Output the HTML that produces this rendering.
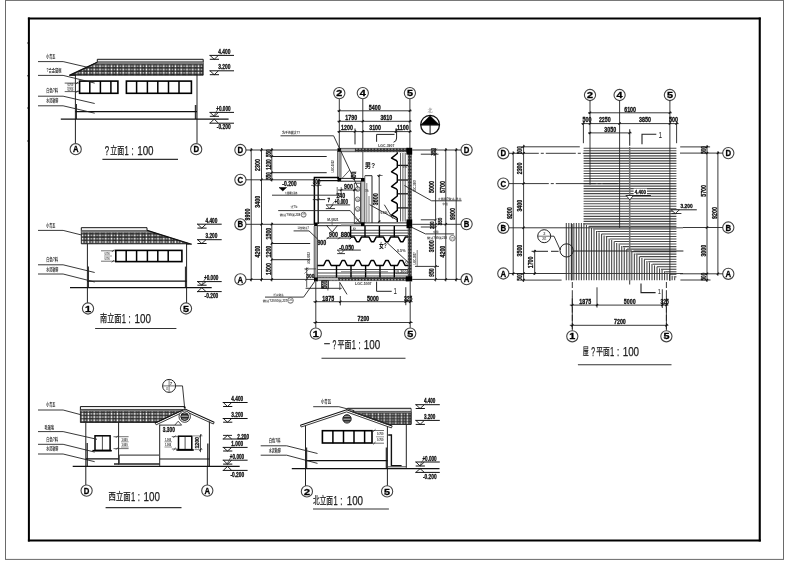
<!DOCTYPE html>
<html lang="zh"><head><meta charset="utf-8"><title>CAD</title>
<style>html,body{margin:0;padding:0;background:#fff}svg{display:block;filter:grayscale(1)}text{white-space:pre}</style></head>
<body><svg width="790" height="584" viewBox="0 0 790 584">
<defs>
<pattern id="tile1" x="0" y="64.55" width="5.8" height="3.3" patternUnits="userSpaceOnUse"><rect width="5.8" height="3.3" fill="#2e2e2e"/><rect x="0.6" y="0.6499999999999999" width="1.6" height="2.0" fill="#fff"/><rect x="3.5" y="0.7999999999999999" width="1.6" height="1.7" fill="#b4b4b4"/></pattern>
<pattern id="tile2" x="0" y="233.75" width="5.8" height="3.3" patternUnits="userSpaceOnUse"><rect width="5.8" height="3.3" fill="#2e2e2e"/><rect x="0.6" y="0.6499999999999999" width="1.6" height="2.0" fill="#fff"/><rect x="3.5" y="0.7999999999999999" width="1.6" height="1.7" fill="#b4b4b4"/></pattern>
<pattern id="tile3" x="0" y="412.25" width="5.8" height="3.2" patternUnits="userSpaceOnUse"><rect width="5.8" height="3.2" fill="#2e2e2e"/><rect x="0.6" y="0.6000000000000001" width="1.6" height="2.0" fill="#fff"/><rect x="3.5" y="0.7500000000000001" width="1.6" height="1.7" fill="#b4b4b4"/></pattern>
<pattern id="tile4" x="0" y="412.85" width="5.8" height="2.9" patternUnits="userSpaceOnUse"><rect width="5.8" height="2.9" fill="#2e2e2e"/><rect x="0.6" y="0.6" width="1.6" height="1.7" fill="#fff"/><rect x="3.5" y="0.75" width="1.6" height="1.4" fill="#b4b4b4"/></pattern>
<pattern id="wallh" width="3.2" height="3.2" patternUnits="userSpaceOnUse"><rect width="3.2" height="3.2" fill="#333"/><rect x="0.9" y="0.9" width="1.4" height="1.4" fill="#ddd"/></pattern>
<pattern id="vent" width="2" height="1.5" patternUnits="userSpaceOnUse"><rect width="2" height="1.5" fill="#fff"/><rect width="2" height="1.0" fill="#111"/></pattern>
</defs>
<rect width="790" height="584" fill="#fff"/>
<rect x="5.5" y="0.4" width="778" height="559" fill="none" stroke="#6a6a6a" stroke-width="1"/>
<line x1="28.9" y1="17.4" x2="28.9" y2="541.5" stroke="#000" stroke-width="2"/>
<line x1="27.9" y1="18.5" x2="760.8" y2="18.5" stroke="#000" stroke-width="2.2"/>
<line x1="759.75" y1="17.4" x2="759.75" y2="541.5" stroke="#000" stroke-width="2.1"/>
<line x1="27.9" y1="540.5" x2="760.8" y2="540.5" stroke="#000" stroke-width="2"/>
<line x1="27.2" y1="43" x2="29" y2="43" stroke="#000" stroke-width="0.9"/>
<line x1="27.2" y1="75.8" x2="29" y2="75.8" stroke="#000" stroke-width="0.9"/>
<line x1="27.2" y1="108" x2="29" y2="108" stroke="#000" stroke-width="0.9"/>
<line x1="27.2" y1="141" x2="29" y2="141" stroke="#000" stroke-width="0.9"/>
<polyline points="97.3,62 97.3,59.3 203.2,59.3 203.2,62" fill="none" stroke="#111" stroke-width="1"/>
<line x1="97.3" y1="61.3" x2="203.2" y2="61.3" stroke="#666" stroke-width="0.7"/>
<polygon points="97.3,62.2 203.2,62.2 203.2,75.2 70.5,75.2" fill="url(#tile1)" stroke="#111" stroke-width="0.8"/>
<polygon points="97.3,62.1 203.2,62.1 203.2,64.3 92.6,64.3" fill="#7a7a7a" stroke="none" stroke-width="0"/>
<line x1="97.3" y1="62.2" x2="69.3" y2="75.4" stroke="#111" stroke-width="1.2"/>
<line x1="69.3" y1="75.4" x2="76" y2="75.4" stroke="#111" stroke-width="0.8"/>
<line x1="75.4" y1="75" x2="75.4" y2="143.6" stroke="#222" stroke-width="1"/>
<line x1="197" y1="74.7" x2="197" y2="143.6" stroke="#222" stroke-width="1"/>
<line x1="76.3" y1="104" x2="76.3" y2="119" stroke="#333" stroke-width="1.4"/>
<line x1="195.6" y1="105" x2="195.6" y2="119" stroke="#333" stroke-width="1.6"/>
<line x1="75.4" y1="111.6" x2="197" y2="111.6" stroke="#111" stroke-width="1.2"/>
<line x1="60.8" y1="119.1" x2="228.6" y2="119.1" stroke="#111" stroke-width="1.2"/>
<rect x="79.6" y="81.1" width="38.3" height="12.2" fill="none" stroke="#000" stroke-width="1.6"/>
<line x1="89.8" y1="81" x2="89.8" y2="93.3" stroke="#000" stroke-width="1.5"/>
<line x1="100.4" y1="81" x2="100.4" y2="93.3" stroke="#000" stroke-width="1.5"/>
<line x1="110.9" y1="81" x2="110.9" y2="93.3" stroke="#000" stroke-width="1.5"/>
<rect x="126.4" y="81.1" width="65" height="12.2" fill="none" stroke="#000" stroke-width="1.6"/>
<line x1="136.6" y1="81" x2="136.6" y2="93.3" stroke="#000" stroke-width="1.5"/>
<line x1="147.4" y1="81" x2="147.4" y2="93.3" stroke="#000" stroke-width="1.5"/>
<line x1="157.8" y1="81" x2="157.8" y2="93.3" stroke="#000" stroke-width="1.5"/>
<line x1="168.5" y1="81" x2="168.5" y2="93.3" stroke="#000" stroke-width="1.5"/>
<line x1="179" y1="81" x2="179" y2="93.3" stroke="#000" stroke-width="1.5"/>
<line x1="64.7" y1="83.1" x2="79" y2="83.1" stroke="#333" stroke-width="0.8"/>
<line x1="64.7" y1="91.6" x2="79" y2="91.6" stroke="#333" stroke-width="0.8"/>
<line x1="67" y1="87.3" x2="73.5" y2="87.3" stroke="#555" stroke-width="0.6"/>
<line x1="75.8" y1="84.3" x2="78.2" y2="81.9" stroke="#111" stroke-width="0.7"/>
<line x1="75.8" y1="92.8" x2="78.2" y2="90.4" stroke="#111" stroke-width="0.7"/>
<text x="67.4" y="86.41" font-size="2.8" font-weight="bold" fill="#222" font-family='"Liberation Sans","Noto Sans CJK SC",sans-serif' textLength="5.8" lengthAdjust="spacingAndGlyphs">0.700</text>
<text x="67.4" y="90.61" font-size="2.8" font-weight="bold" fill="#222" font-family='"Liberation Sans","Noto Sans CJK SC",sans-serif' textLength="5.8" lengthAdjust="spacingAndGlyphs">0.700</text>
<polyline points="38,61.6 63.1,61.6 89.3,67.7" fill="none" stroke="#222" stroke-width="0.9"/>
<text x="46.2" y="58.13" font-size="4.8" font-weight="bold" fill="#333" font-family='"Liberation Sans","Noto Sans CJK SC",sans-serif' textLength="9.2" lengthAdjust="spacingAndGlyphs">小青瓦</text>
<polyline points="38,75.4 63.1,75.4 94.7,83.1" fill="none" stroke="#222" stroke-width="0.9"/>
<text x="46.5" y="71.73" font-size="4.8" font-weight="bold" fill="#333" font-family='"Liberation Sans","Noto Sans CJK SC",sans-serif' textLength="15.1" lengthAdjust="spacingAndGlyphs">?合金窗框</text>
<polyline points="38,96.2 63.1,96.2 94.7,103.5" fill="none" stroke="#222" stroke-width="0.9"/>
<text x="46.2" y="92.23" font-size="4.8" font-weight="bold" fill="#333" font-family='"Liberation Sans","Noto Sans CJK SC",sans-serif' textLength="12" lengthAdjust="spacingAndGlyphs">白色?料</text>
<polyline points="38,105.8 63.1,105.8 94.7,113.2" fill="none" stroke="#222" stroke-width="0.9"/>
<text x="46.2" y="102.13" font-size="4.8" font-weight="bold" fill="#333" font-family='"Liberation Sans","Noto Sans CJK SC",sans-serif' textLength="12" lengthAdjust="spacingAndGlyphs">水泥勒脚</text>
<line x1="209.4" y1="55.4" x2="234" y2="55.4" stroke="#111" stroke-width="1"/>
<polyline points="210,55.4 214.2,59.3 218.4,55.4" fill="none" stroke="#111" stroke-width="0.9"/>
<line x1="209.8" y1="59.3" x2="219" y2="59.3" stroke="#111" stroke-width="1"/>
<text x="218.2" y="54.08" font-size="6.6" font-weight="bold" fill="#111" font-family='"Liberation Sans","Noto Sans CJK SC",sans-serif' textLength="12.2" lengthAdjust="spacingAndGlyphs" stroke="#111" stroke-width="0.3">4.400</text>
<line x1="209.4" y1="70.8" x2="234" y2="70.8" stroke="#111" stroke-width="1"/>
<polyline points="210,70.8 214.2,74.7 218.4,70.8" fill="none" stroke="#111" stroke-width="0.9"/>
<line x1="209.8" y1="74.7" x2="219" y2="74.7" stroke="#111" stroke-width="1"/>
<text x="218.2" y="69.48" font-size="6.6" font-weight="bold" fill="#111" font-family='"Liberation Sans","Noto Sans CJK SC",sans-serif' textLength="12.2" lengthAdjust="spacingAndGlyphs" stroke="#111" stroke-width="0.3">3.200</text>
<line x1="209.4" y1="112.4" x2="234" y2="112.4" stroke="#111" stroke-width="1"/>
<polyline points="210,112.4 214.2,116.3 218.4,112.4" fill="none" stroke="#111" stroke-width="0.9"/>
<line x1="209.8" y1="116.3" x2="219" y2="116.3" stroke="#111" stroke-width="1"/>
<text x="216.3" y="111.08" font-size="6.6" font-weight="bold" fill="#111" font-family='"Liberation Sans","Noto Sans CJK SC",sans-serif' textLength="14.3" lengthAdjust="spacingAndGlyphs" stroke="#111" stroke-width="0.3">+0.000</text>
<line x1="213.8" y1="116.3" x2="217.5" y2="109.5" stroke="#333" stroke-width="0.7"/>
<line x1="209.4" y1="123.2" x2="234" y2="123.2" stroke="#111" stroke-width="1"/>
<polyline points="210,123.2 214.2,119.1 218.4,123.2" fill="none" stroke="#111" stroke-width="0.9"/>
<text x="216.8" y="129.48" font-size="6.6" font-weight="bold" fill="#111" font-family='"Liberation Sans","Noto Sans CJK SC",sans-serif' textLength="13.8" lengthAdjust="spacingAndGlyphs" stroke="#111" stroke-width="0.3">-0.200</text>
<circle cx="75.7" cy="149.2" r="5.6" fill="#fff" stroke="#444" stroke-width="1.1"/>
<text x="72.9" y="152.37" font-size="8.8" font-weight="bold" fill="#000" font-family='"Liberation Sans","Noto Sans CJK SC",sans-serif' textLength="5.6" lengthAdjust="spacingAndGlyphs" stroke="#000" stroke-width="0.3">A</text>
<circle cx="196.2" cy="149.2" r="5.6" fill="#fff" stroke="#444" stroke-width="1.1"/>
<text x="193.4" y="152.37" font-size="8.8" font-weight="bold" fill="#000" font-family='"Liberation Sans","Noto Sans CJK SC",sans-serif' textLength="5.6" lengthAdjust="spacingAndGlyphs" stroke="#000" stroke-width="0.3">D</text>
<text x="104.7" y="154.62" font-size="12" font-weight="normal" fill="#222" font-family='"Liberation Sans","Noto Sans CJK SC",sans-serif' textLength="4.4" lengthAdjust="spacingAndGlyphs" stroke="#222" stroke-width="0.25">?</text>
<text x="110.3" y="153.8" font-size="10" font-weight="normal" fill="#222" font-family='"Liberation Sans","Noto Sans CJK SC",sans-serif' textLength="13.9" lengthAdjust="spacingAndGlyphs" stroke="#222" stroke-width="0.25">立面</text>
<text x="124.6" y="154.76" font-size="12.4" font-weight="normal" fill="#222" font-family='"Liberation Sans","Noto Sans CJK SC",sans-serif' textLength="4.2" lengthAdjust="spacingAndGlyphs" stroke="#222" stroke-width="0.25">1</text>
<text x="131.4" y="154.76" font-size="12.4" font-weight="normal" fill="#222" font-family='"Liberation Sans","Noto Sans CJK SC",sans-serif' textLength="2.2" lengthAdjust="spacingAndGlyphs" stroke="#222" stroke-width="0.25">:</text>
<text x="137.2" y="154.76" font-size="12.4" font-weight="normal" fill="#222" font-family='"Liberation Sans","Noto Sans CJK SC",sans-serif' textLength="16.4" lengthAdjust="spacingAndGlyphs" stroke="#222" stroke-width="0.25">100</text>
<line x1="102.4" y1="159.4" x2="178" y2="159.4" stroke="#333" stroke-width="1.1"/>
<polyline points="81.3,231 81.3,227.7 147,227.7 147,230.4" fill="none" stroke="#111" stroke-width="1"/>
<line x1="81.3" y1="230.4" x2="147" y2="230.4" stroke="#555" stroke-width="0.7"/>
<polygon points="81.3,231 148.5,231 189.2,243.8 81.3,243.8" fill="url(#tile2)" stroke="#111" stroke-width="0.8"/>
<polygon points="81.3,230.6 147.6,230.6 154.4,232.7 81.3,232.7" fill="#7a7a7a" stroke="none" stroke-width="0"/>
<line x1="147" y1="230.4" x2="191.6" y2="244.2" stroke="#111" stroke-width="1.2"/>
<line x1="186" y1="244.2" x2="191.6" y2="244.2" stroke="#111" stroke-width="0.8"/>
<line x1="87.4" y1="243.5" x2="87.4" y2="303" stroke="#222" stroke-width="1"/>
<line x1="186.6" y1="244" x2="186.6" y2="303" stroke="#222" stroke-width="1"/>
<line x1="88.3" y1="266.6" x2="88.3" y2="287.6" stroke="#333" stroke-width="1.4"/>
<line x1="185.6" y1="266.6" x2="185.6" y2="287.6" stroke="#333" stroke-width="1.4"/>
<line x1="87.4" y1="281.1" x2="186.6" y2="281.1" stroke="#111" stroke-width="1.2"/>
<line x1="70" y1="287.7" x2="211.7" y2="287.7" stroke="#111" stroke-width="1.2"/>
<rect x="115.8" y="250.4" width="66.1" height="11.2" fill="none" stroke="#000" stroke-width="1.6"/>
<line x1="126.2" y1="250.3" x2="126.2" y2="261.7" stroke="#000" stroke-width="1.5"/>
<line x1="136.6" y1="250.3" x2="136.6" y2="261.7" stroke="#000" stroke-width="1.5"/>
<line x1="147.4" y1="250.3" x2="147.4" y2="261.7" stroke="#000" stroke-width="1.5"/>
<line x1="157.8" y1="250.3" x2="157.8" y2="261.7" stroke="#000" stroke-width="1.5"/>
<line x1="168.2" y1="250.3" x2="168.2" y2="261.7" stroke="#000" stroke-width="1.5"/>
<line x1="101" y1="250.8" x2="115" y2="250.8" stroke="#333" stroke-width="0.7"/>
<line x1="101" y1="261.2" x2="115" y2="261.2" stroke="#333" stroke-width="0.7"/>
<line x1="104" y1="256" x2="112" y2="256" stroke="#555" stroke-width="0.6"/>
<text x="104.5" y="254.61" font-size="2.8" font-weight="bold" fill="#222" font-family='"Liberation Sans","Noto Sans CJK SC",sans-serif' textLength="5" lengthAdjust="spacingAndGlyphs">0.700</text>
<text x="104.5" y="259.61" font-size="2.8" font-weight="bold" fill="#222" font-family='"Liberation Sans","Noto Sans CJK SC",sans-serif' textLength="5" lengthAdjust="spacingAndGlyphs">0.700</text>
<line x1="111.8" y1="252" x2="114.2" y2="249.6" stroke="#111" stroke-width="0.7"/>
<line x1="111.8" y1="262.4" x2="114.2" y2="260" stroke="#111" stroke-width="0.7"/>
<polyline points="38,230.4 63.1,230.4 81.6,235" fill="none" stroke="#222" stroke-width="0.9"/>
<text x="46.2" y="226.73" font-size="4.8" font-weight="bold" fill="#333" font-family='"Liberation Sans","Noto Sans CJK SC",sans-serif' textLength="9.2" lengthAdjust="spacingAndGlyphs">小青瓦</text>
<polyline points="38,264.8 63.1,264.8 94.7,272.5" fill="none" stroke="#222" stroke-width="0.9"/>
<text x="46.2" y="261.43" font-size="4.8" font-weight="bold" fill="#333" font-family='"Liberation Sans","Noto Sans CJK SC",sans-serif' textLength="12" lengthAdjust="spacingAndGlyphs">白色?料</text>
<polyline points="38,274 63.1,274 94.7,282" fill="none" stroke="#222" stroke-width="0.9"/>
<text x="46.2" y="270.73" font-size="4.8" font-weight="bold" fill="#333" font-family='"Liberation Sans","Noto Sans CJK SC",sans-serif' textLength="12" lengthAdjust="spacingAndGlyphs">水泥勒脚</text>
<line x1="197" y1="224.2" x2="221.7" y2="224.2" stroke="#111" stroke-width="1"/>
<polyline points="197.6,224.2 201.8,228.1 206,224.2" fill="none" stroke="#111" stroke-width="0.9"/>
<line x1="197.4" y1="228.1" x2="206.6" y2="228.1" stroke="#111" stroke-width="1"/>
<text x="205.5" y="222.88" font-size="6.6" font-weight="bold" fill="#111" font-family='"Liberation Sans","Noto Sans CJK SC",sans-serif' textLength="11.9" lengthAdjust="spacingAndGlyphs" stroke="#111" stroke-width="0.3">4.400</text>
<line x1="197" y1="239.7" x2="221.7" y2="239.7" stroke="#111" stroke-width="1"/>
<polyline points="197.6,239.7 201.8,243.5 206,239.7" fill="none" stroke="#111" stroke-width="0.9"/>
<line x1="197.4" y1="243.5" x2="206.6" y2="243.5" stroke="#111" stroke-width="1"/>
<text x="205.5" y="238.38" font-size="6.6" font-weight="bold" fill="#111" font-family='"Liberation Sans","Noto Sans CJK SC",sans-serif' textLength="11.9" lengthAdjust="spacingAndGlyphs" stroke="#111" stroke-width="0.3">3.200</text>
<line x1="197" y1="281.6" x2="221.7" y2="281.6" stroke="#111" stroke-width="1"/>
<polyline points="197.6,281.6 201.8,285.2 206,281.6" fill="none" stroke="#111" stroke-width="0.9"/>
<line x1="197.4" y1="285.2" x2="206.6" y2="285.2" stroke="#111" stroke-width="1"/>
<text x="204" y="280.28" font-size="6.6" font-weight="bold" fill="#111" font-family='"Liberation Sans","Noto Sans CJK SC",sans-serif' textLength="14.3" lengthAdjust="spacingAndGlyphs" stroke="#111" stroke-width="0.3">+0.000</text>
<line x1="201.4" y1="285.2" x2="205.2" y2="278.6" stroke="#333" stroke-width="0.7"/>
<line x1="197" y1="291.6" x2="221.7" y2="291.6" stroke="#111" stroke-width="1"/>
<polyline points="197.6,291.6 201.8,287.7 206,291.6" fill="none" stroke="#111" stroke-width="0.9"/>
<text x="204.6" y="297.88" font-size="6.6" font-weight="bold" fill="#111" font-family='"Liberation Sans","Noto Sans CJK SC",sans-serif' textLength="13.7" lengthAdjust="spacingAndGlyphs" stroke="#111" stroke-width="0.3">-0.200</text>
<circle cx="88" cy="308.5" r="5.6" fill="#fff" stroke="#444" stroke-width="1.1"/>
<text x="85" y="311.6" font-size="8.6" font-weight="bold" fill="#000" font-family='"Liberation Sans","Noto Sans CJK SC",sans-serif' textLength="6" lengthAdjust="spacingAndGlyphs" stroke="#000" stroke-width="0.3">1</text>
<circle cx="186" cy="308.5" r="5.6" fill="#fff" stroke="#444" stroke-width="1.1"/>
<text x="183" y="311.6" font-size="8.6" font-weight="bold" fill="#000" font-family='"Liberation Sans","Noto Sans CJK SC",sans-serif' textLength="6" lengthAdjust="spacingAndGlyphs" stroke="#000" stroke-width="0.3">5</text>
<text x="100.1" y="322.2" font-size="10" font-weight="normal" fill="#222" font-family='"Liberation Sans","Noto Sans CJK SC",sans-serif' textLength="21.3" lengthAdjust="spacingAndGlyphs" stroke="#222" stroke-width="0.25">南立面</text>
<text x="121.8" y="323.16" font-size="12.4" font-weight="normal" fill="#222" font-family='"Liberation Sans","Noto Sans CJK SC",sans-serif' textLength="4.2" lengthAdjust="spacingAndGlyphs" stroke="#222" stroke-width="0.25">1</text>
<text x="128.6" y="323.16" font-size="12.4" font-weight="normal" fill="#222" font-family='"Liberation Sans","Noto Sans CJK SC",sans-serif' textLength="2.2" lengthAdjust="spacingAndGlyphs" stroke="#222" stroke-width="0.25">:</text>
<text x="134.5" y="323.16" font-size="12.4" font-weight="normal" fill="#222" font-family='"Liberation Sans","Noto Sans CJK SC",sans-serif' textLength="16.4" lengthAdjust="spacingAndGlyphs" stroke="#222" stroke-width="0.25">100</text>
<line x1="95.1" y1="328.5" x2="176.4" y2="328.5" stroke="#333" stroke-width="1.1"/>
<polyline points="80.4,410.6 80.4,406.6 184.7,406.6" fill="none" stroke="#111" stroke-width="1"/>
<line x1="80.4" y1="409.4" x2="182" y2="409.4" stroke="#555" stroke-width="0.7"/>
<polygon points="80.4,409.8 183,409.8 156.5,422.5 80.4,422.5" fill="url(#tile3)" stroke="#111" stroke-width="0.8"/>
<polygon points="80.4,409.7 183,409.7 179.9,411.2 80.4,411.2" fill="#7a7a7a" stroke="none" stroke-width="0"/>
<polyline points="155.1,423.1 185.1,409 214.2,422.3" fill="none" stroke="#111" stroke-width="1.1"/>
<polyline points="156.2,424.8 185.1,411.2 213.4,424" fill="none" stroke="#222" stroke-width="0.9"/>
<line x1="155.1" y1="423.1" x2="156.2" y2="424.8" stroke="#111" stroke-width="0.8"/>
<line x1="214.2" y1="422.3" x2="213.4" y2="424" stroke="#111" stroke-width="0.8"/>
<circle cx="184.7" cy="416.6" r="5.7" fill="#fff" stroke="#222" stroke-width="0.9"/>
<circle cx="184.7" cy="416.6" r="3.9" fill="url(#vent)" stroke="#111" stroke-width="0.9"/>
<circle cx="169.1" cy="385.9" r="6.5" fill="none" stroke="#222" stroke-width="1"/>
<line x1="162.6" y1="385.9" x2="175.6" y2="385.9" stroke="#333" stroke-width="0.7"/>
<line x1="169.1" y1="379.4" x2="169.1" y2="392.4" stroke="#444" stroke-width="0.7"/>
<text x="169.8" y="384.55" font-size="3.2" font-weight="bold" fill="#444" font-family='"Liberation Sans","Noto Sans CJK SC",sans-serif' textLength="2.6" lengthAdjust="spacingAndGlyphs">7</text>
<text x="166" y="389.88" font-size="3" font-weight="bold" fill="#555" font-family='"Liberation Sans","Noto Sans CJK SC",sans-serif' textLength="2.2" lengthAdjust="spacingAndGlyphs">J01</text>
<polyline points="175.6,385.9 182.5,385.9 184.7,408.3" fill="none" stroke="#222" stroke-width="0.9"/>
<rect x="183.8" y="406.6" width="1.8" height="1.8" fill="#111"/>
<line x1="85.8" y1="422.4" x2="85.8" y2="485" stroke="#222" stroke-width="1"/>
<line x1="118.6" y1="422.4" x2="118.6" y2="464.6" stroke="#222" stroke-width="1"/>
<line x1="159.7" y1="424.5" x2="159.7" y2="465.9" stroke="#222" stroke-width="1"/>
<line x1="209.4" y1="421.4" x2="209.4" y2="466" stroke="#222" stroke-width="1"/>
<line x1="207.3" y1="466" x2="207.3" y2="485" stroke="#222" stroke-width="1"/>
<line x1="87.2" y1="443" x2="87.2" y2="466.4" stroke="#333" stroke-width="1.4"/>
<line x1="207.8" y1="443.6" x2="207.8" y2="466.4" stroke="#333" stroke-width="1.4"/>
<line x1="85.8" y1="458.9" x2="118.6" y2="458.9" stroke="#111" stroke-width="1.2"/>
<line x1="159.7" y1="459" x2="209.4" y2="459" stroke="#111" stroke-width="1.2"/>
<line x1="119.4" y1="455.1" x2="159" y2="455.1" stroke="#222" stroke-width="1"/>
<line x1="114" y1="464.1" x2="159.7" y2="464.1" stroke="#222" stroke-width="1.5"/>
<line x1="119.4" y1="455.1" x2="119.4" y2="464" stroke="#333" stroke-width="0.8"/>
<line x1="72.7" y1="466.4" x2="239.7" y2="466.4" stroke="#111" stroke-width="1.2"/>
<rect x="95" y="435.8" width="15.1" height="14.6" fill="none" stroke="#000" stroke-width="1.5"/>
<line x1="102.4" y1="436" x2="102.4" y2="450" stroke="#222" stroke-width="0.8"/>
<line x1="92.4" y1="450.7" x2="111.8" y2="450.7" stroke="#000" stroke-width="1.6"/>
<line x1="113.5" y1="436.7" x2="128.6" y2="436.7" stroke="#333" stroke-width="0.7"/>
<line x1="113.5" y1="448.6" x2="128.6" y2="448.6" stroke="#333" stroke-width="0.7"/>
<line x1="115.8" y1="437.9" x2="118.2" y2="435.5" stroke="#111" stroke-width="0.7"/>
<line x1="115.8" y1="449.8" x2="118.2" y2="447.4" stroke="#111" stroke-width="0.7"/>
<line x1="121" y1="441.8" x2="128.6" y2="441.8" stroke="#444" stroke-width="0.6"/>
<line x1="121" y1="447" x2="128.6" y2="447" stroke="#444" stroke-width="0.6"/>
<text x="121.4" y="441.08" font-size="3" font-weight="bold" fill="#222" font-family='"Liberation Sans","Noto Sans CJK SC",sans-serif' textLength="6.2" lengthAdjust="spacingAndGlyphs">1.000</text>
<text x="121.4" y="446.38" font-size="3" font-weight="bold" fill="#222" font-family='"Liberation Sans","Noto Sans CJK SC",sans-serif' textLength="6.2" lengthAdjust="spacingAndGlyphs">1.000</text>
<rect x="178.5" y="436.2" width="13.3" height="13.4" fill="none" stroke="#000" stroke-width="1.5"/>
<line x1="185.1" y1="436.4" x2="185.1" y2="449.6" stroke="#222" stroke-width="0.8"/>
<line x1="176.4" y1="450" x2="193.8" y2="450" stroke="#000" stroke-width="1.6"/>
<line x1="171.8" y1="436.6" x2="178" y2="436.6" stroke="#333" stroke-width="0.7"/>
<line x1="171.8" y1="449" x2="178" y2="449" stroke="#333" stroke-width="0.7"/>
<line x1="173.4" y1="437.8" x2="175.8" y2="435.4" stroke="#111" stroke-width="0.7"/>
<line x1="173.4" y1="450.2" x2="175.8" y2="447.8" stroke="#111" stroke-width="0.7"/>
<line x1="164.5" y1="441.8" x2="172" y2="441.8" stroke="#444" stroke-width="0.6"/>
<line x1="164.5" y1="447" x2="172" y2="447" stroke="#444" stroke-width="0.6"/>
<text x="165" y="441.08" font-size="3" font-weight="bold" fill="#222" font-family='"Liberation Sans","Noto Sans CJK SC",sans-serif' textLength="6.2" lengthAdjust="spacingAndGlyphs">1.000</text>
<text x="165" y="446.38" font-size="3" font-weight="bold" fill="#222" font-family='"Liberation Sans","Noto Sans CJK SC",sans-serif' textLength="6.2" lengthAdjust="spacingAndGlyphs">1.000</text>
<line x1="200.5" y1="434.2" x2="200.5" y2="452.2" stroke="#222" stroke-width="0.8"/>
<line x1="193" y1="435.9" x2="202.5" y2="435.9" stroke="#444" stroke-width="0.6"/>
<line x1="194.5" y1="449.6" x2="202.5" y2="449.6" stroke="#444" stroke-width="0.6"/>
<line x1="199.2" y1="437.2" x2="201.8" y2="434.6" stroke="#111" stroke-width="0.8"/>
<line x1="199.2" y1="450.9" x2="201.8" y2="448.3" stroke="#111" stroke-width="0.8"/>
<text x="191" y="444.82" font-size="5.6" font-weight="bold" fill="#111" font-family='"Liberation Sans","Noto Sans CJK SC",sans-serif' textLength="11.6" lengthAdjust="spacingAndGlyphs" transform="rotate(-90 196.8 442.8)" stroke="#111" stroke-width="0.3">1200</text>
<line x1="159.7" y1="425.1" x2="181.6" y2="425.1" stroke="#222" stroke-width="0.9"/>
<polyline points="174.8,425.1 178.2,421.2 181.6,425.1" fill="none" stroke="#222" stroke-width="0.8"/>
<text x="162.8" y="431.6" font-size="6.4" font-weight="bold" fill="#111" font-family='"Liberation Sans","Noto Sans CJK SC",sans-serif' textLength="12" lengthAdjust="spacingAndGlyphs" stroke="#111" stroke-width="0.3">3.300</text>
<polyline points="38,410 63.1,410 80.8,414.7" fill="none" stroke="#222" stroke-width="0.9"/>
<text x="46.2" y="406.03" font-size="4.8" font-weight="bold" fill="#333" font-family='"Liberation Sans","Noto Sans CJK SC",sans-serif' textLength="9.2" lengthAdjust="spacingAndGlyphs">小青瓦</text>
<polyline points="38,431.6 63.1,431.6 97,439.3" fill="none" stroke="#222" stroke-width="0.9"/>
<text x="44.5" y="428.73" font-size="4.8" font-weight="bold" fill="#333" font-family='"Liberation Sans","Noto Sans CJK SC",sans-serif' textLength="9.5" lengthAdjust="spacingAndGlyphs">毛玻璃</text>
<polyline points="38,444.3 63.1,444.3 94.7,452.1" fill="none" stroke="#222" stroke-width="0.9"/>
<text x="46.2" y="440.73" font-size="4.8" font-weight="bold" fill="#333" font-family='"Liberation Sans","Noto Sans CJK SC",sans-serif' textLength="12" lengthAdjust="spacingAndGlyphs">白色?料</text>
<polyline points="38,454 63.1,454 94.7,461.7" fill="none" stroke="#222" stroke-width="0.9"/>
<text x="46.2" y="450.03" font-size="4.8" font-weight="bold" fill="#333" font-family='"Liberation Sans","Noto Sans CJK SC",sans-serif' textLength="12" lengthAdjust="spacingAndGlyphs">水泥勒脚</text>
<line x1="222.7" y1="402.5" x2="247.6" y2="402.5" stroke="#111" stroke-width="1"/>
<polyline points="223.3,402.5 227.5,406.5 231.7,402.5" fill="none" stroke="#111" stroke-width="0.9"/>
<line x1="223.1" y1="406.5" x2="232.3" y2="406.5" stroke="#111" stroke-width="1"/>
<text x="231.3" y="401.18" font-size="6.6" font-weight="bold" fill="#111" font-family='"Liberation Sans","Noto Sans CJK SC",sans-serif' textLength="11.9" lengthAdjust="spacingAndGlyphs" stroke="#111" stroke-width="0.3">4.400</text>
<line x1="222.7" y1="418.5" x2="247.6" y2="418.5" stroke="#111" stroke-width="1"/>
<polyline points="223.3,418.5 227.5,422.2 231.7,418.5" fill="none" stroke="#111" stroke-width="0.9"/>
<line x1="223.1" y1="422.2" x2="232.3" y2="422.2" stroke="#111" stroke-width="1"/>
<text x="231.3" y="417.18" font-size="6.6" font-weight="bold" fill="#111" font-family='"Liberation Sans","Noto Sans CJK SC",sans-serif' textLength="11.9" lengthAdjust="spacingAndGlyphs" stroke="#111" stroke-width="0.3">3.200</text>
<line x1="222.7" y1="439" x2="247.6" y2="439" stroke="#111" stroke-width="1"/>
<polyline points="223.3,439 227.5,435.4 231.7,439" fill="none" stroke="#111" stroke-width="0.9"/>
<line x1="223" y1="435.4" x2="232" y2="435.4" stroke="#111" stroke-width="0.9"/>
<text x="237.3" y="438.78" font-size="6.6" font-weight="bold" fill="#111" font-family='"Liberation Sans","Noto Sans CJK SC",sans-serif' textLength="11.7" lengthAdjust="spacingAndGlyphs" stroke="#111" stroke-width="0.3">2.200</text>
<line x1="222.7" y1="447.4" x2="247.6" y2="447.4" stroke="#111" stroke-width="1"/>
<polyline points="223.3,447.4 227.5,451 231.7,447.4" fill="none" stroke="#111" stroke-width="0.9"/>
<line x1="223.1" y1="451" x2="232.3" y2="451" stroke="#111" stroke-width="1"/>
<text x="231.3" y="446.08" font-size="6.6" font-weight="bold" fill="#111" font-family='"Liberation Sans","Noto Sans CJK SC",sans-serif' textLength="11.9" lengthAdjust="spacingAndGlyphs" stroke="#111" stroke-width="0.3">1.000</text>
<line x1="222.7" y1="460.2" x2="247.6" y2="460.2" stroke="#111" stroke-width="1"/>
<polyline points="223.3,460.2 227.5,464.1 231.7,460.2" fill="none" stroke="#111" stroke-width="0.9"/>
<line x1="223.1" y1="464.1" x2="232.3" y2="464.1" stroke="#111" stroke-width="1"/>
<text x="229.8" y="458.88" font-size="6.6" font-weight="bold" fill="#111" font-family='"Liberation Sans","Noto Sans CJK SC",sans-serif' textLength="14.4" lengthAdjust="spacingAndGlyphs" stroke="#111" stroke-width="0.3">+0.000</text>
<line x1="227" y1="464.1" x2="230.8" y2="457.2" stroke="#333" stroke-width="0.7"/>
<line x1="222.7" y1="470.4" x2="247.6" y2="470.4" stroke="#111" stroke-width="1"/>
<polyline points="223.3,470.4 227.5,466.4 231.7,470.4" fill="none" stroke="#111" stroke-width="0.9"/>
<text x="230.4" y="476.68" font-size="6.6" font-weight="bold" fill="#111" font-family='"Liberation Sans","Noto Sans CJK SC",sans-serif' textLength="13.8" lengthAdjust="spacingAndGlyphs" stroke="#111" stroke-width="0.3">-0.200</text>
<circle cx="86.6" cy="490.6" r="5.6" fill="#fff" stroke="#444" stroke-width="1.1"/>
<text x="83.8" y="493.77" font-size="8.8" font-weight="bold" fill="#000" font-family='"Liberation Sans","Noto Sans CJK SC",sans-serif' textLength="5.6" lengthAdjust="spacingAndGlyphs" stroke="#000" stroke-width="0.3">D</text>
<circle cx="207.3" cy="490.6" r="5.6" fill="#fff" stroke="#444" stroke-width="1.1"/>
<text x="204.5" y="493.77" font-size="8.8" font-weight="bold" fill="#000" font-family='"Liberation Sans","Noto Sans CJK SC",sans-serif' textLength="5.6" lengthAdjust="spacingAndGlyphs" stroke="#000" stroke-width="0.3">A</text>
<text x="108.6" y="499.6" font-size="10" font-weight="normal" fill="#222" font-family='"Liberation Sans","Noto Sans CJK SC",sans-serif' textLength="22" lengthAdjust="spacingAndGlyphs" stroke="#222" stroke-width="0.25">西立面</text>
<text x="131" y="500.56" font-size="12.4" font-weight="normal" fill="#222" font-family='"Liberation Sans","Noto Sans CJK SC",sans-serif' textLength="4.2" lengthAdjust="spacingAndGlyphs" stroke="#222" stroke-width="0.25">1</text>
<text x="137.8" y="500.56" font-size="12.4" font-weight="normal" fill="#222" font-family='"Liberation Sans","Noto Sans CJK SC",sans-serif' textLength="2.2" lengthAdjust="spacingAndGlyphs" stroke="#222" stroke-width="0.25">:</text>
<text x="143.6" y="500.56" font-size="12.4" font-weight="normal" fill="#222" font-family='"Liberation Sans","Noto Sans CJK SC",sans-serif' textLength="16.4" lengthAdjust="spacingAndGlyphs" stroke="#222" stroke-width="0.25">100</text>
<line x1="105.6" y1="507.6" x2="181.5" y2="507.6" stroke="#333" stroke-width="1.1"/>
<polyline points="347.5,408.3 411,408.3 411,424.5" fill="none" stroke="#111" stroke-width="1"/>
<polygon points="348.5,408.9 410.5,408.9 410.5,411.2 352.5,411.2" fill="#dedede" stroke="none" stroke-width="0"/>
<polygon points="353,411.6 411,411.6 411,424.5 389,424.5" fill="url(#tile4)" stroke="#111" stroke-width="0.8"/>
<polygon points="353,411.5 411,411.5 411,412.9 356.8,412.9" fill="#7a7a7a" stroke="none" stroke-width="0"/>
<polyline points="300.4,425.2 346.6,409.8 392.2,426.1" fill="none" stroke="#111" stroke-width="1.1"/>
<polyline points="301.2,427 346.6,411.9 391.4,427.9" fill="none" stroke="#222" stroke-width="0.9"/>
<line x1="300.4" y1="425.2" x2="301.2" y2="427" stroke="#111" stroke-width="0.8"/>
<line x1="392.2" y1="426.1" x2="391.4" y2="427.9" stroke="#111" stroke-width="0.8"/>
<line x1="346.6" y1="409.8" x2="347.5" y2="408.1" stroke="#111" stroke-width="0.8"/>
<line x1="350" y1="411" x2="388" y2="424.6" stroke="#333" stroke-width="0.8"/>
<circle cx="347" cy="418.9" r="4.2" fill="url(#vent)" stroke="#111" stroke-width="0.9"/>
<line x1="305.5" y1="426" x2="305.5" y2="486" stroke="#222" stroke-width="1"/>
<line x1="387.4" y1="426.5" x2="387.4" y2="486" stroke="#222" stroke-width="1"/>
<line x1="406.3" y1="424.4" x2="406.3" y2="467.8" stroke="#222" stroke-width="1"/>
<line x1="306.5" y1="447.5" x2="306.5" y2="468.5" stroke="#333" stroke-width="1.4"/>
<line x1="386.4" y1="447.5" x2="386.4" y2="468.5" stroke="#333" stroke-width="1.4"/>
<line x1="305.5" y1="460.7" x2="387.4" y2="460.7" stroke="#111" stroke-width="1.3"/>
<line x1="291.8" y1="468.6" x2="439.5" y2="468.6" stroke="#111" stroke-width="1.2"/>
<rect x="322.4" y="430.7" width="49.6" height="12.3" fill="none" stroke="#000" stroke-width="1.6"/>
<line x1="332.9" y1="430.6" x2="332.9" y2="443.2" stroke="#000" stroke-width="1.5"/>
<line x1="343.5" y1="430.6" x2="343.5" y2="443.2" stroke="#000" stroke-width="1.5"/>
<line x1="354" y1="430.6" x2="354" y2="443.2" stroke="#000" stroke-width="1.5"/>
<line x1="364.6" y1="430.6" x2="364.6" y2="443.2" stroke="#000" stroke-width="1.5"/>
<line x1="372.5" y1="430.5" x2="384" y2="430.5" stroke="#333" stroke-width="0.7"/>
<line x1="372.5" y1="443.2" x2="384" y2="443.2" stroke="#333" stroke-width="0.7"/>
<line x1="376" y1="436.8" x2="384" y2="436.8" stroke="#555" stroke-width="0.6"/>
<line x1="373.1" y1="431.7" x2="375.5" y2="429.3" stroke="#111" stroke-width="0.7"/>
<line x1="373.1" y1="444.4" x2="375.5" y2="442" stroke="#111" stroke-width="0.7"/>
<text x="377" y="435.21" font-size="2.8" font-weight="bold" fill="#222" font-family='"Liberation Sans","Noto Sans CJK SC",sans-serif' textLength="6.4" lengthAdjust="spacingAndGlyphs">0.700</text>
<text x="377" y="440.61" font-size="2.8" font-weight="bold" fill="#222" font-family='"Liberation Sans","Noto Sans CJK SC",sans-serif' textLength="6.4" lengthAdjust="spacingAndGlyphs">0.700</text>
<polyline points="388.2,435 391.4,435 391.4,465.6 401.6,465.6" fill="none" stroke="#111" stroke-width="1.4"/>
<line x1="388" y1="466.8" x2="406.3" y2="466.8" stroke="#333" stroke-width="0.9"/>
<polyline points="313.2,406.7 338.9,406.7 354.3,410.7" fill="none" stroke="#222" stroke-width="0.9"/>
<text x="320.9" y="403.03" font-size="4.8" font-weight="bold" fill="#333" font-family='"Liberation Sans","Noto Sans CJK SC",sans-serif' textLength="10.3" lengthAdjust="spacingAndGlyphs">小青瓦</text>
<polyline points="260.7,445.8 286.7,445.8 317.5,453.5" fill="none" stroke="#222" stroke-width="0.9"/>
<text x="268.7" y="442.43" font-size="4.8" font-weight="bold" fill="#333" font-family='"Liberation Sans","Noto Sans CJK SC",sans-serif' textLength="12" lengthAdjust="spacingAndGlyphs">白色?料</text>
<polyline points="260.7,455.2 286.7,455.2 317.5,463.4" fill="none" stroke="#222" stroke-width="0.9"/>
<text x="268.7" y="451.83" font-size="4.8" font-weight="bold" fill="#333" font-family='"Liberation Sans","Noto Sans CJK SC",sans-serif' textLength="12" lengthAdjust="spacingAndGlyphs">水泥勒脚</text>
<line x1="415.3" y1="404.7" x2="439.8" y2="404.7" stroke="#111" stroke-width="1"/>
<polyline points="415.9,404.7 420.1,408.5 424.3,404.7" fill="none" stroke="#111" stroke-width="0.9"/>
<line x1="415.7" y1="408.5" x2="424.9" y2="408.5" stroke="#111" stroke-width="1"/>
<text x="423.9" y="403.38" font-size="6.6" font-weight="bold" fill="#111" font-family='"Liberation Sans","Noto Sans CJK SC",sans-serif' textLength="11.5" lengthAdjust="spacingAndGlyphs" stroke="#111" stroke-width="0.3">4.400</text>
<line x1="415.3" y1="420.4" x2="439.8" y2="420.4" stroke="#111" stroke-width="1"/>
<polyline points="415.9,420.4 420.1,424.4 424.3,420.4" fill="none" stroke="#111" stroke-width="0.9"/>
<line x1="415.7" y1="424.4" x2="424.9" y2="424.4" stroke="#111" stroke-width="1"/>
<text x="423.9" y="419.08" font-size="6.6" font-weight="bold" fill="#111" font-family='"Liberation Sans","Noto Sans CJK SC",sans-serif' textLength="11.5" lengthAdjust="spacingAndGlyphs" stroke="#111" stroke-width="0.3">3.200</text>
<line x1="415.3" y1="462" x2="439.8" y2="462" stroke="#111" stroke-width="1"/>
<polyline points="415.9,462 420.1,466 424.3,462" fill="none" stroke="#111" stroke-width="0.9"/>
<line x1="415.7" y1="466" x2="424.9" y2="466" stroke="#111" stroke-width="1"/>
<text x="422.4" y="460.68" font-size="6.6" font-weight="bold" fill="#111" font-family='"Liberation Sans","Noto Sans CJK SC",sans-serif' textLength="14.2" lengthAdjust="spacingAndGlyphs" stroke="#111" stroke-width="0.3">+0.000</text>
<line x1="419.6" y1="466" x2="423.6" y2="459" stroke="#333" stroke-width="0.7"/>
<line x1="415.3" y1="472.4" x2="439.8" y2="472.4" stroke="#111" stroke-width="1"/>
<polyline points="415.9,472.4 420.1,468.6 424.3,472.4" fill="none" stroke="#111" stroke-width="0.9"/>
<text x="423" y="478.68" font-size="6.6" font-weight="bold" fill="#111" font-family='"Liberation Sans","Noto Sans CJK SC",sans-serif' textLength="13.6" lengthAdjust="spacingAndGlyphs" stroke="#111" stroke-width="0.3">-0.200</text>
<circle cx="306.9" cy="491.4" r="5.6" fill="#fff" stroke="#444" stroke-width="1.1"/>
<text x="303.9" y="494.5" font-size="8.6" font-weight="bold" fill="#000" font-family='"Liberation Sans","Noto Sans CJK SC",sans-serif' textLength="6" lengthAdjust="spacingAndGlyphs" stroke="#000" stroke-width="0.3">2</text>
<circle cx="387.1" cy="491.4" r="5.6" fill="#fff" stroke="#444" stroke-width="1.1"/>
<text x="384.1" y="494.5" font-size="8.6" font-weight="bold" fill="#000" font-family='"Liberation Sans","Noto Sans CJK SC",sans-serif' textLength="6" lengthAdjust="spacingAndGlyphs" stroke="#000" stroke-width="0.3">5</text>
<text x="313" y="503.8" font-size="10" font-weight="normal" fill="#222" font-family='"Liberation Sans","Noto Sans CJK SC",sans-serif' textLength="20" lengthAdjust="spacingAndGlyphs" stroke="#222" stroke-width="0.25">北立面</text>
<text x="333.4" y="504.76" font-size="12.4" font-weight="normal" fill="#222" font-family='"Liberation Sans","Noto Sans CJK SC",sans-serif' textLength="4.2" lengthAdjust="spacingAndGlyphs" stroke="#222" stroke-width="0.25">1</text>
<text x="340.2" y="504.76" font-size="12.4" font-weight="normal" fill="#222" font-family='"Liberation Sans","Noto Sans CJK SC",sans-serif' textLength="2.2" lengthAdjust="spacingAndGlyphs" stroke="#222" stroke-width="0.25">:</text>
<text x="346.7" y="504.76" font-size="12.4" font-weight="normal" fill="#222" font-family='"Liberation Sans","Noto Sans CJK SC",sans-serif' textLength="16.4" lengthAdjust="spacingAndGlyphs" stroke="#222" stroke-width="0.25">100</text>
<line x1="313" y1="509" x2="388.9" y2="509" stroke="#333" stroke-width="1.1"/>
<line x1="339.3" y1="98.6" x2="339.3" y2="148" stroke="#222" stroke-width="0.9"/>
<circle cx="339.3" cy="93.1" r="5.6" fill="#fff" stroke="#444" stroke-width="1.1"/>
<text x="336.3" y="96.2" font-size="8.6" font-weight="bold" fill="#000" font-family='"Liberation Sans","Noto Sans CJK SC",sans-serif' textLength="6" lengthAdjust="spacingAndGlyphs" stroke="#000" stroke-width="0.3">2</text>
<line x1="362.8" y1="98.6" x2="362.8" y2="148" stroke="#222" stroke-width="0.9"/>
<circle cx="362.8" cy="93.1" r="5.6" fill="#fff" stroke="#444" stroke-width="1.1"/>
<text x="359.8" y="96.2" font-size="8.6" font-weight="bold" fill="#000" font-family='"Liberation Sans","Noto Sans CJK SC",sans-serif' textLength="6" lengthAdjust="spacingAndGlyphs" stroke="#000" stroke-width="0.3">4</text>
<line x1="409.9" y1="98.6" x2="409.9" y2="148" stroke="#222" stroke-width="0.9"/>
<circle cx="409.9" cy="93.1" r="5.6" fill="#fff" stroke="#444" stroke-width="1.1"/>
<text x="406.9" y="96.2" font-size="8.6" font-weight="bold" fill="#000" font-family='"Liberation Sans","Noto Sans CJK SC",sans-serif' textLength="6" lengthAdjust="spacingAndGlyphs" stroke="#000" stroke-width="0.3">5</text>
<line x1="362.8" y1="148" x2="362.8" y2="226" stroke="#333" stroke-width="0.8"/>
<line x1="337.4" y1="110.8" x2="411.6" y2="110.8" stroke="#222" stroke-width="0.9"/>
<line x1="337.4" y1="121.3" x2="411.6" y2="121.3" stroke="#222" stroke-width="0.9"/>
<line x1="337.4" y1="131.6" x2="411.6" y2="131.6" stroke="#222" stroke-width="0.9"/>
<line x1="338.2" y1="111.9" x2="340.4" y2="109.7" stroke="#111" stroke-width="1.2"/>
<line x1="408.8" y1="111.9" x2="411" y2="109.7" stroke="#111" stroke-width="1.2"/>
<line x1="338.2" y1="122.4" x2="340.4" y2="120.2" stroke="#111" stroke-width="1.2"/>
<line x1="408.8" y1="122.4" x2="411" y2="120.2" stroke="#111" stroke-width="1.2"/>
<line x1="338.2" y1="132.7" x2="340.4" y2="130.5" stroke="#111" stroke-width="1.2"/>
<line x1="408.8" y1="132.7" x2="411" y2="130.5" stroke="#111" stroke-width="1.2"/>
<line x1="361.7" y1="122.4" x2="363.9" y2="120.2" stroke="#111" stroke-width="1.2"/>
<line x1="361.7" y1="132.7" x2="363.9" y2="130.5" stroke="#111" stroke-width="1.2"/>
<line x1="353.9" y1="132.7" x2="356.1" y2="130.5" stroke="#111" stroke-width="1.2"/>
<line x1="394.8" y1="132.7" x2="397" y2="130.5" stroke="#111" stroke-width="1.2"/>
<text x="368.8" y="109.65" font-size="6.8" font-weight="bold" fill="#111" font-family='"Liberation Sans","Noto Sans CJK SC",sans-serif' textLength="11.8" lengthAdjust="spacingAndGlyphs" stroke="#111" stroke-width="0.3">5400</text>
<text x="345.3" y="120.05" font-size="6.8" font-weight="bold" fill="#111" font-family='"Liberation Sans","Noto Sans CJK SC",sans-serif' textLength="11.8" lengthAdjust="spacingAndGlyphs" stroke="#111" stroke-width="0.3">1790</text>
<text x="380.4" y="120.05" font-size="6.8" font-weight="bold" fill="#111" font-family='"Liberation Sans","Noto Sans CJK SC",sans-serif' textLength="11.8" lengthAdjust="spacingAndGlyphs" stroke="#111" stroke-width="0.3">3610</text>
<text x="341.1" y="130.45" font-size="6.8" font-weight="bold" fill="#111" font-family='"Liberation Sans","Noto Sans CJK SC",sans-serif' textLength="11.8" lengthAdjust="spacingAndGlyphs" stroke="#111" stroke-width="0.3">1200</text>
<text x="369.2" y="130.45" font-size="6.8" font-weight="bold" fill="#111" font-family='"Liberation Sans","Noto Sans CJK SC",sans-serif' textLength="11.8" lengthAdjust="spacingAndGlyphs" stroke="#111" stroke-width="0.3">3100</text>
<text x="397" y="130.45" font-size="6.8" font-weight="bold" fill="#111" font-family='"Liberation Sans","Noto Sans CJK SC",sans-serif' textLength="11.8" lengthAdjust="spacingAndGlyphs" stroke="#111" stroke-width="0.3">1100</text>
<line x1="355" y1="128.5" x2="355" y2="144.4" stroke="#222" stroke-width="1"/>
<line x1="395.9" y1="128.5" x2="395.9" y2="133" stroke="#222" stroke-width="1"/>
<polyline points="376.6,141.8 376.6,134.4 394.5,134.4" fill="none" stroke="#222" stroke-width="1"/>
<path d="M396.6 128.6 L396.6 138 Q396.6 141.6 393.6 142.2" fill="none" stroke="#222" stroke-width="1"/>
<text x="378.2" y="146.58" font-size="3" font-weight="bold" fill="#333" font-family='"Liberation Sans","Noto Sans CJK SC",sans-serif' textLength="16.2" lengthAdjust="spacingAndGlyphs">LGC-3907</text>
<circle cx="430.1" cy="124.8" r="9.4" fill="none" stroke="#111" stroke-width="1.3"/>
<polygon points="421,124.8 430.1,115.8 439.2,124.8" fill="#000" stroke="#000" stroke-width="0.6"/>
<line x1="420.8" y1="124.9" x2="439.4" y2="124.9" stroke="#000" stroke-width="1.1"/>
<line x1="430.1" y1="124.8" x2="430.1" y2="134.1" stroke="#111" stroke-width="1"/>
<text x="427.6" y="111.73" font-size="4.8" font-weight="normal" fill="#777" font-family='"Liberation Sans","Noto Sans CJK SC",sans-serif' textLength="5" lengthAdjust="spacingAndGlyphs">北</text>
<circle cx="240.4" cy="150" r="5.6" fill="#fff" stroke="#444" stroke-width="1.1"/>
<text x="237.6" y="153.17" font-size="8.8" font-weight="bold" fill="#000" font-family='"Liberation Sans","Noto Sans CJK SC",sans-serif' textLength="5.6" lengthAdjust="spacingAndGlyphs" stroke="#000" stroke-width="0.3">D</text>
<circle cx="240.4" cy="179.8" r="5.6" fill="#fff" stroke="#444" stroke-width="1.1"/>
<text x="237.6" y="182.97" font-size="8.8" font-weight="bold" fill="#000" font-family='"Liberation Sans","Noto Sans CJK SC",sans-serif' textLength="5.6" lengthAdjust="spacingAndGlyphs" stroke="#000" stroke-width="0.3">C</text>
<circle cx="240.4" cy="224.3" r="5.6" fill="#fff" stroke="#444" stroke-width="1.1"/>
<text x="237.6" y="227.47" font-size="8.8" font-weight="bold" fill="#000" font-family='"Liberation Sans","Noto Sans CJK SC",sans-serif' textLength="5.6" lengthAdjust="spacingAndGlyphs" stroke="#000" stroke-width="0.3">B</text>
<circle cx="240.4" cy="279.4" r="5.6" fill="#fff" stroke="#444" stroke-width="1.1"/>
<text x="237.6" y="282.57" font-size="8.8" font-weight="bold" fill="#000" font-family='"Liberation Sans","Noto Sans CJK SC",sans-serif' textLength="5.6" lengthAdjust="spacingAndGlyphs" stroke="#000" stroke-width="0.3">A</text>
<line x1="245.9" y1="150" x2="338" y2="150" stroke="#222" stroke-width="0.9"/>
<line x1="245.9" y1="179.8" x2="314" y2="179.8" stroke="#222" stroke-width="0.9"/>
<line x1="245.9" y1="224.3" x2="314" y2="224.3" stroke="#222" stroke-width="0.9"/>
<line x1="245.9" y1="279.4" x2="314" y2="279.4" stroke="#222" stroke-width="0.9"/>
<line x1="251.2" y1="148" x2="251.2" y2="281.4" stroke="#222" stroke-width="0.9"/>
<line x1="261.5" y1="148" x2="261.5" y2="281.4" stroke="#222" stroke-width="0.9"/>
<line x1="271.8" y1="148" x2="271.8" y2="181.5" stroke="#222" stroke-width="0.9"/>
<line x1="271.8" y1="222.5" x2="271.8" y2="281.4" stroke="#222" stroke-width="0.9"/>
<line x1="250.1" y1="151.1" x2="252.3" y2="148.9" stroke="#111" stroke-width="1.2"/>
<line x1="250.1" y1="280.5" x2="252.3" y2="278.3" stroke="#111" stroke-width="1.2"/>
<line x1="260.4" y1="151.1" x2="262.6" y2="148.9" stroke="#111" stroke-width="1.2"/>
<line x1="260.4" y1="180.9" x2="262.6" y2="178.7" stroke="#111" stroke-width="1.2"/>
<line x1="260.4" y1="225.4" x2="262.6" y2="223.2" stroke="#111" stroke-width="1.2"/>
<line x1="260.4" y1="280.5" x2="262.6" y2="278.3" stroke="#111" stroke-width="1.2"/>
<line x1="270.7" y1="151.1" x2="272.9" y2="148.9" stroke="#111" stroke-width="1.2"/>
<line x1="270.7" y1="157.6" x2="272.9" y2="155.4" stroke="#111" stroke-width="1.2"/>
<line x1="270.7" y1="173.8" x2="272.9" y2="171.6" stroke="#111" stroke-width="1.2"/>
<line x1="270.7" y1="180.9" x2="272.9" y2="178.7" stroke="#111" stroke-width="1.2"/>
<line x1="270.7" y1="225.4" x2="272.9" y2="223.2" stroke="#111" stroke-width="1.2"/>
<line x1="270.7" y1="244.6" x2="272.9" y2="242.4" stroke="#111" stroke-width="1.2"/>
<line x1="270.7" y1="260.8" x2="272.9" y2="258.6" stroke="#111" stroke-width="1.2"/>
<line x1="270.7" y1="280.5" x2="272.9" y2="278.3" stroke="#111" stroke-width="1.2"/>
<text x="241.9" y="216.95" font-size="6.8" font-weight="bold" fill="#111" font-family='"Liberation Sans","Noto Sans CJK SC",sans-serif' textLength="11.8" lengthAdjust="spacingAndGlyphs" transform="rotate(-90 247.8 214.5)" stroke="#111" stroke-width="0.3">9900</text>
<text x="251.8" y="167.45" font-size="6.8" font-weight="bold" fill="#111" font-family='"Liberation Sans","Noto Sans CJK SC",sans-serif' textLength="11.8" lengthAdjust="spacingAndGlyphs" transform="rotate(-90 257.7 165)" stroke="#111" stroke-width="0.3">2300</text>
<text x="251.8" y="204.25" font-size="6.8" font-weight="bold" fill="#111" font-family='"Liberation Sans","Noto Sans CJK SC",sans-serif' textLength="11.8" lengthAdjust="spacingAndGlyphs" transform="rotate(-90 257.7 201.8)" stroke="#111" stroke-width="0.3">3400</text>
<text x="251.8" y="254.05" font-size="6.8" font-weight="bold" fill="#111" font-family='"Liberation Sans","Noto Sans CJK SC",sans-serif' textLength="11.8" lengthAdjust="spacingAndGlyphs" transform="rotate(-90 257.7 251.6)" stroke="#111" stroke-width="0.3">4200</text>
<text x="264.75" y="155.65" font-size="6.8" font-weight="bold" fill="#111" font-family='"Liberation Sans","Noto Sans CJK SC",sans-serif' textLength="7.5" lengthAdjust="spacingAndGlyphs" transform="rotate(-90 268.5 153.2)" stroke="#111" stroke-width="0.3">550</text>
<text x="263.3" y="167.05" font-size="6.8" font-weight="bold" fill="#111" font-family='"Liberation Sans","Noto Sans CJK SC",sans-serif' textLength="10.4" lengthAdjust="spacingAndGlyphs" transform="rotate(-90 268.5 164.6)" stroke="#111" stroke-width="0.3">1200</text>
<text x="264.75" y="178.55" font-size="6.8" font-weight="bold" fill="#111" font-family='"Liberation Sans","Noto Sans CJK SC",sans-serif' textLength="7.5" lengthAdjust="spacingAndGlyphs" transform="rotate(-90 268.5 176.1)" stroke="#111" stroke-width="0.3">550</text>
<text x="262.6" y="236.05" font-size="6.8" font-weight="bold" fill="#111" font-family='"Liberation Sans","Noto Sans CJK SC",sans-serif' textLength="11.8" lengthAdjust="spacingAndGlyphs" transform="rotate(-90 268.5 233.6)" stroke="#111" stroke-width="0.3">1500</text>
<text x="262.6" y="254.05" font-size="6.8" font-weight="bold" fill="#111" font-family='"Liberation Sans","Noto Sans CJK SC",sans-serif' textLength="11.8" lengthAdjust="spacingAndGlyphs" transform="rotate(-90 268.5 251.6)" stroke="#111" stroke-width="0.3">1200</text>
<text x="262.6" y="271.45" font-size="6.8" font-weight="bold" fill="#111" font-family='"Liberation Sans","Noto Sans CJK SC",sans-serif' textLength="11.8" lengthAdjust="spacingAndGlyphs" transform="rotate(-90 268.5 269)" stroke="#111" stroke-width="0.3">1500</text>
<line x1="271.8" y1="156.5" x2="326.7" y2="156.5" stroke="#222" stroke-width="1"/>
<line x1="271.8" y1="172.7" x2="326.7" y2="172.7" stroke="#222" stroke-width="1"/>
<line x1="271.8" y1="243.5" x2="310.2" y2="243.5" stroke="#222" stroke-width="1"/>
<line x1="271.8" y1="259.7" x2="310.2" y2="259.7" stroke="#222" stroke-width="1"/>
<rect x="354.5" y="148.4" width="53.5" height="3.3" fill="url(#wallh)"/>
<rect x="341" y="148.4" width="13.5" height="3.3" fill="#b8b8b8"/>
<line x1="339" y1="148.4" x2="408" y2="148.4" stroke="#222" stroke-width="0.7"/>
<line x1="339" y1="151.7" x2="408" y2="151.7" stroke="#222" stroke-width="0.7"/>
<text x="327.2" y="167.41" font-size="2.8" font-weight="bold" fill="#333" font-family='"Liberation Sans","Noto Sans CJK SC",sans-serif' textLength="12" lengthAdjust="spacingAndGlyphs" transform="rotate(-90 333.2 166.4)">LGC-0812</text>
<text x="303.4" y="259.11" font-size="2.8" font-weight="bold" fill="#333" font-family='"Liberation Sans","Noto Sans CJK SC",sans-serif' textLength="12" lengthAdjust="spacingAndGlyphs" transform="rotate(-90 309.4 258.1)">LGC-0812</text>
<rect x="337.6" y="151" width="3.4" height="28" fill="#c4c4c4"/>
<line x1="337.6" y1="151" x2="337.6" y2="179" stroke="#222" stroke-width="0.7"/>
<line x1="341" y1="151" x2="341" y2="179" stroke="#222" stroke-width="0.7"/>
<line x1="339.3" y1="152" x2="339.3" y2="178" stroke="#444" stroke-width="0.5"/>
<rect x="408.2" y="152" width="3.2" height="125" fill="url(#wallh)"/>
<line x1="408.2" y1="152" x2="408.2" y2="277" stroke="#222" stroke-width="0.6"/>
<line x1="411.4" y1="152" x2="411.4" y2="277" stroke="#222" stroke-width="0.6"/>
<line x1="341" y1="178.4" x2="361" y2="178.4" stroke="#222" stroke-width="1"/>
<line x1="341" y1="181.2" x2="361" y2="181.2" stroke="#222" stroke-width="1"/>
<rect x="360.8" y="181" width="4" height="42" fill="#c4c4c4"/>
<line x1="360.8" y1="181" x2="360.8" y2="223" stroke="#222" stroke-width="0.7"/>
<line x1="364.8" y1="176" x2="364.8" y2="223" stroke="#222" stroke-width="0.7"/>
<line x1="317.4" y1="222.9" x2="408" y2="222.9" stroke="#222" stroke-width="1"/>
<line x1="317.4" y1="225.7" x2="408" y2="225.7" stroke="#222" stroke-width="1"/>
<rect x="341" y="223.3" width="20" height="2" fill="#bbb"/>
<polyline points="339,177.6 314.4,177.6 314.4,224" fill="none" stroke="#000" stroke-width="1.5"/>
<polyline points="339,180.6 318.2,180.6 318.2,224" fill="none" stroke="#111" stroke-width="1.3"/>
<rect x="314.2" y="226" width="3.3" height="52" fill="#c4c4c4"/>
<line x1="314.2" y1="226" x2="314.2" y2="278" stroke="#222" stroke-width="0.7"/>
<line x1="317.5" y1="226" x2="317.5" y2="278" stroke="#222" stroke-width="0.7"/>
<line x1="315.9" y1="227" x2="315.9" y2="277" stroke="#444" stroke-width="0.5"/>
<rect x="317.4" y="277.5" width="90.6" height="3.1" fill="url(#wallh)"/>
<line x1="317.4" y1="277.5" x2="408" y2="277.5" stroke="#222" stroke-width="0.6"/>
<line x1="317.4" y1="280.6" x2="408" y2="280.6" stroke="#222" stroke-width="0.6"/>
<rect x="317.4" y="277.9" width="20.6" height="2.3" fill="#bbb"/>
<rect x="337.5" y="148.2" width="3.6" height="3.6" fill="#000"/>
<rect x="337.5" y="178" width="3.6" height="3.6" fill="#000"/>
<rect x="361" y="178" width="3.6" height="3.6" fill="#000"/>
<rect x="361" y="222.5" width="3.6" height="3.6" fill="#000"/>
<rect x="314.1" y="222.5" width="3.6" height="3.6" fill="#000"/>
<rect x="314" y="277.4" width="3.8" height="4" fill="#000"/>
<rect x="406.4" y="147.8" width="5.8" height="6.8" fill="#000"/>
<rect x="406.5" y="219.4" width="5.7" height="8.8" fill="#000"/>
<rect x="405.8" y="276.2" width="6.4" height="5.2" fill="#000"/>
<text x="364.8" y="168.31" font-size="7.4" font-weight="bold" fill="#111" font-family='"Liberation Sans","Noto Sans CJK SC",sans-serif' textLength="10.2" lengthAdjust="spacingAndGlyphs">男?</text>
<polyline points="397.3,152.2 397.3,153.5 391.5,158.1 396.3,160.5 397.3,161.7 397.3,165.4 397.3,167.3 391.5,171.9 396.3,174.3 397.3,175.5 397.3,180 397.3,181.9 391.5,186.5 396.3,188.9 397.3,190.1 397.3,193.8 397.3,196 391.5,200.6 396.3,203 397.3,204.2 397.3,207.9 397.3,210.4 391.5,215 396.3,217.4 397.3,218.6 397.3,221.9" fill="none" stroke="#000" stroke-width="1.4" stroke-linejoin="round"/>
<line x1="397.3" y1="165.4" x2="408" y2="165.4" stroke="#111" stroke-width="1.3"/>
<line x1="397.3" y1="180" x2="408" y2="180" stroke="#111" stroke-width="1.3"/>
<line x1="397.3" y1="193.8" x2="408" y2="193.8" stroke="#111" stroke-width="1.3"/>
<line x1="397.3" y1="207.9" x2="408" y2="207.9" stroke="#111" stroke-width="1.3"/>
<line x1="400.5" y1="153" x2="400.5" y2="221.5" stroke="#333" stroke-width="0.8"/>
<line x1="402.9" y1="153" x2="402.9" y2="221.5" stroke="#333" stroke-width="0.8"/>
<line x1="405.2" y1="153" x2="405.2" y2="221.5" stroke="#333" stroke-width="0.8"/>
<text x="403" y="168.48" font-size="3" font-weight="bold" fill="#333" font-family='"Liberation Sans","Noto Sans CJK SC",sans-serif' textLength="3.8" lengthAdjust="spacingAndGlyphs">1%</text>
<polyline points="364.8,175.7 372,175.7 372,223" fill="none" stroke="#222" stroke-width="1"/>
<line x1="366.8" y1="183" x2="366.8" y2="222" stroke="#444" stroke-width="0.7"/>
<line x1="369" y1="196" x2="369" y2="222" stroke="#444" stroke-width="0.7"/>
<text x="365.2" y="192.08" font-size="3" font-weight="bold" fill="#333" font-family='"Liberation Sans","Noto Sans CJK SC",sans-serif' textLength="3.4" lengthAdjust="spacingAndGlyphs">1%</text>
<rect x="354.3" y="183.2" width="6.4" height="40.4" fill="none" stroke="#333" stroke-width="0.8"/>
<circle cx="357.7" cy="189" r="2.3" fill="none" stroke="#444" stroke-width="0.8"/>
<circle cx="357.7" cy="189.6" r="1" fill="none" stroke="#666" stroke-width="0.6"/>
<circle cx="357.7" cy="199.3" r="2.3" fill="none" stroke="#444" stroke-width="0.8"/>
<circle cx="357.7" cy="199.9" r="1" fill="none" stroke="#666" stroke-width="0.6"/>
<circle cx="357.7" cy="209" r="2.3" fill="none" stroke="#444" stroke-width="0.8"/>
<circle cx="357.7" cy="209.6" r="1" fill="none" stroke="#666" stroke-width="0.6"/>
<line x1="354.5" y1="217.5" x2="360.5" y2="223.5" stroke="#444" stroke-width="0.6"/>
<line x1="360.5" y1="217.5" x2="354.5" y2="223.5" stroke="#444" stroke-width="0.6"/>
<line x1="379.2" y1="174.7" x2="379.2" y2="221.8" stroke="#222" stroke-width="0.9"/>
<line x1="378.1" y1="176.8" x2="380.3" y2="174.6" stroke="#111" stroke-width="1.2"/>
<line x1="378.1" y1="222.7" x2="380.3" y2="220.5" stroke="#111" stroke-width="1.2"/>
<line x1="377" y1="175.5" x2="382.6" y2="175.5" stroke="#333" stroke-width="0.7"/>
<text x="370" y="201.75" font-size="6.8" font-weight="bold" fill="#111" font-family='"Liberation Sans","Noto Sans CJK SC",sans-serif' textLength="11.8" lengthAdjust="spacingAndGlyphs" transform="rotate(-90 375.9 199.3)" stroke="#111" stroke-width="0.3">3600</text>
<line x1="338" y1="190" x2="357.4" y2="190" stroke="#222" stroke-width="0.9"/>
<line x1="340.1" y1="191.1" x2="342.3" y2="188.9" stroke="#111" stroke-width="1.2"/>
<line x1="353.2" y1="191.1" x2="355.4" y2="188.9" stroke="#111" stroke-width="1.2"/>
<text x="344.07" y="189.15" font-size="6.8" font-weight="bold" fill="#111" font-family='"Liberation Sans","Noto Sans CJK SC",sans-serif' textLength="8.85" lengthAdjust="spacingAndGlyphs" stroke="#111" stroke-width="0.3">900</text>
<text x="336.38" y="198.05" font-size="6.8" font-weight="bold" fill="#111" font-family='"Liberation Sans","Noto Sans CJK SC",sans-serif' textLength="8.85" lengthAdjust="spacingAndGlyphs" stroke="#111" stroke-width="0.3">240</text>
<line x1="336.5" y1="193.5" x2="341.2" y2="193.5" stroke="#333" stroke-width="0.7"/>
<line x1="337.2" y1="187" x2="337.2" y2="195" stroke="#333" stroke-width="0.7"/>
<line x1="341.2" y1="187" x2="341.2" y2="195" stroke="#333" stroke-width="0.7"/>
<text x="349.35" y="178.18" font-size="6.6" font-weight="bold" fill="#111" font-family='"Liberation Sans","Noto Sans CJK SC",sans-serif' textLength="8.1" lengthAdjust="spacingAndGlyphs" transform="rotate(-90 353.4 175.8)" stroke="#111" stroke-width="0.3">450</text>
<line x1="351.5" y1="172" x2="356.5" y2="172" stroke="#333" stroke-width="0.6"/>
<text x="334.4" y="203.5" font-size="6.4" font-weight="bold" fill="#111" font-family='"Liberation Sans","Noto Sans CJK SC",sans-serif' textLength="13.6" lengthAdjust="spacingAndGlyphs" stroke="#111" stroke-width="0.3">+0.000</text>
<line x1="326" y1="204.9" x2="350.2" y2="204.9" stroke="#222" stroke-width="0.9"/>
<polyline points="326.3,204.9 329.7,208.5 333.1,204.9" fill="none" stroke="#222" stroke-width="0.8"/>
<line x1="325.8" y1="208.6" x2="335" y2="208.6" stroke="#222" stroke-width="0.9"/>
<line x1="329.9" y1="208.2" x2="334" y2="202" stroke="#333" stroke-width="0.6"/>
<line x1="312.8" y1="199.6" x2="325.2" y2="199.6" stroke="#222" stroke-width="0.9"/>
<text x="327.4" y="201.96" font-size="6" font-weight="bold" fill="#111" font-family='"Liberation Sans","Noto Sans CJK SC",sans-serif' textLength="2.6" lengthAdjust="spacingAndGlyphs" stroke="#111" stroke-width="0.3">7</text>
<line x1="317" y1="200.8" x2="319.4" y2="198.4" stroke="#111" stroke-width="0.8"/>
<text x="312.7" y="183.58" font-size="6.6" font-weight="bold" fill="#111" font-family='"Liberation Sans","Noto Sans CJK SC",sans-serif' textLength="7.7" lengthAdjust="spacingAndGlyphs" stroke="#111" stroke-width="0.3">300</text>
<line x1="311.2" y1="185.4" x2="321.4" y2="185.4" stroke="#333" stroke-width="0.8"/>
<line x1="313.5" y1="186.5" x2="315.7" y2="184.3" stroke="#111" stroke-width="0.9"/>
<line x1="317.2" y1="186.5" x2="319.4" y2="184.3" stroke="#111" stroke-width="0.9"/>
<line x1="349.7" y1="170" x2="341.2" y2="179.3" stroke="#333" stroke-width="0.8"/>
<text x="282" y="133.98" font-size="3" font-weight="bold" fill="#333" font-family='"Liberation Sans","Noto Sans CJK SC",sans-serif' textLength="18" lengthAdjust="spacingAndGlyphs">洗手池做法??</text>
<polyline points="280.5,135.8 333.6,135.8 358.1,187.8" fill="none" stroke="#222" stroke-width="0.9"/>
<text x="282.3" y="185.5" font-size="6.4" font-weight="bold" fill="#111" font-family='"Liberation Sans","Noto Sans CJK SC",sans-serif' textLength="14.3" lengthAdjust="spacingAndGlyphs" stroke="#111" stroke-width="0.3">-0.200</text>
<polygon points="279,187.5 286.6,187.5 282.8,190.9" fill="#000" stroke="#000" stroke-width="0.5"/>
<text x="284.8" y="193.91" font-size="2.8" font-weight="bold" fill="#444" font-family='"Liberation Sans","Noto Sans CJK SC",sans-serif' textLength="12.6" lengthAdjust="spacingAndGlyphs">大便槽台面高</text>
<line x1="272" y1="195.2" x2="339" y2="195.2" stroke="#222" stroke-width="0.9"/>
<text x="290.5" y="208.31" font-size="2.8" font-weight="bold" fill="#444" font-family='"Liberation Sans","Noto Sans CJK SC",sans-serif' textLength="6.9" lengthAdjust="spacingAndGlyphs">泛?b</text>
<polyline points="278.2,210.6 350.2,210.6 360.5,223" fill="none" stroke="#222" stroke-width="0.9"/>
<text x="279.7" y="215.71" font-size="2.8" font-weight="bold" fill="#444" font-family='"Liberation Sans","Noto Sans CJK SC",sans-serif' textLength="20.7" lengthAdjust="spacingAndGlyphs">做法?99浙J38</text>
<circle cx="303.6" cy="214.7" r="2.5" fill="none" stroke="#444" stroke-width="0.7"/>
<text x="302.2" y="214.39" font-size="2.2" font-weight="normal" fill="#555" font-family='"Liberation Sans","Noto Sans CJK SC",sans-serif' textLength="2.8" lengthAdjust="spacingAndGlyphs">3</text>
<text x="302.2" y="216.79" font-size="2.2" font-weight="normal" fill="#555" font-family='"Liberation Sans","Noto Sans CJK SC",sans-serif' textLength="2.8" lengthAdjust="spacingAndGlyphs">17</text>
<line x1="301.2" y1="214.7" x2="306" y2="214.7" stroke="#555" stroke-width="0.4"/>
<text x="327.3" y="220.61" font-size="2.8" font-weight="bold" fill="#333" font-family='"Liberation Sans","Noto Sans CJK SC",sans-serif' textLength="11.3" lengthAdjust="spacingAndGlyphs">M-0821</text>
<polyline points="326.4,225.2 332.2,232 337.8,225.2" fill="none" stroke="#222" stroke-width="0.9"/>
<line x1="332" y1="221" x2="332.2" y2="226" stroke="#444" stroke-width="0.6"/>
<text x="297.4" y="228.61" font-size="2.8" font-weight="bold" fill="#444" font-family='"Liberation Sans","Noto Sans CJK SC",sans-serif' textLength="11.6" lengthAdjust="spacingAndGlyphs">顶部做法?</text>
<polyline points="293.6,230.9 309,230.9 317.4,238.9" fill="none" stroke="#222" stroke-width="0.9"/>
<text x="329.07" y="237.15" font-size="6.8" font-weight="bold" fill="#111" font-family='"Liberation Sans","Noto Sans CJK SC",sans-serif' textLength="8.85" lengthAdjust="spacingAndGlyphs" stroke="#111" stroke-width="0.3">900</text>
<text x="340.7" y="237.15" font-size="6.8" font-weight="bold" fill="#111" font-family='"Liberation Sans","Noto Sans CJK SC",sans-serif' textLength="9.6" lengthAdjust="spacingAndGlyphs" stroke="#111" stroke-width="0.3">880</text>
<line x1="326.7" y1="238.1" x2="351" y2="238.1" stroke="#222" stroke-width="0.9"/>
<line x1="326.5" y1="239.3" x2="328.9" y2="236.9" stroke="#111" stroke-width="0.8"/>
<line x1="338.1" y1="239.3" x2="340.5" y2="236.9" stroke="#111" stroke-width="0.8"/>
<line x1="349.6" y1="239.3" x2="352" y2="236.9" stroke="#111" stroke-width="0.8"/>
<text x="317.38" y="245.45" font-size="6.8" font-weight="bold" fill="#111" font-family='"Liberation Sans","Noto Sans CJK SC",sans-serif' textLength="8.85" lengthAdjust="spacingAndGlyphs" stroke="#111" stroke-width="0.3">900</text>
<line x1="317.5" y1="239.5" x2="320" y2="241.5" stroke="#333" stroke-width="0.6"/>
<text x="379" y="247.78" font-size="6.8" font-weight="bold" fill="#111" font-family='"Liberation Sans","Noto Sans CJK SC",sans-serif' textLength="7.8" lengthAdjust="spacingAndGlyphs">女?</text>
<line x1="350.6" y1="230.3" x2="408" y2="230.3" stroke="#333" stroke-width="0.9"/>
<line x1="350.6" y1="233" x2="408" y2="233" stroke="#333" stroke-width="0.9"/>
<line x1="350.6" y1="235.6" x2="408" y2="235.6" stroke="#333" stroke-width="0.9"/>
<line x1="350.6" y1="226" x2="350.6" y2="237" stroke="#000" stroke-width="1.4"/>
<line x1="365" y1="226" x2="365" y2="237" stroke="#000" stroke-width="1.4"/>
<line x1="379.4" y1="226" x2="379.4" y2="237" stroke="#000" stroke-width="1.4"/>
<line x1="394.3" y1="226" x2="394.3" y2="237" stroke="#000" stroke-width="1.4"/>
<rect x="353.4" y="228" width="2.2" height="1.7" fill="none" stroke="#333" stroke-width="0.5"/>
<polyline points="350.6,236.9 354.2,236.9 356.7,241.7 359.1,241.7 361.6,236.9 368.9,236.9 371.4,241.7 373.8,241.7 376.3,236.9 383.3,236.9 385.8,241.7 388.2,241.7 390.7,236.9 398.1,236.9 400.6,241.7 403,241.7 405.5,236.9 408,236.9" fill="none" stroke="#000" stroke-width="1.5" stroke-linejoin="round"/>
<line x1="317.5" y1="269.5" x2="408" y2="269.5" stroke="#333" stroke-width="0.9"/>
<line x1="317.5" y1="273" x2="408" y2="273" stroke="#333" stroke-width="0.9"/>
<line x1="317.5" y1="276" x2="408" y2="276" stroke="#333" stroke-width="0.9"/>
<line x1="336.5" y1="265.4" x2="336.5" y2="277.5" stroke="#000" stroke-width="1.4"/>
<line x1="351" y1="265.4" x2="351" y2="277.5" stroke="#000" stroke-width="1.4"/>
<line x1="365.6" y1="265.4" x2="365.6" y2="277.5" stroke="#000" stroke-width="1.4"/>
<line x1="380" y1="265.4" x2="380" y2="277.5" stroke="#000" stroke-width="1.4"/>
<line x1="394.3" y1="265.4" x2="394.3" y2="277.5" stroke="#000" stroke-width="1.4"/>
<polyline points="317.5,265.5 323.6,265.5 326.1,260.5 328.7,260.5 331.2,265.5 339.6,265.5 342.1,260.5 344.7,260.5 347.2,265.5 354,265.5 356.5,260.5 359.1,260.5 361.6,265.5 368.6,265.5 371.1,260.5 373.7,260.5 376.2,265.5 383.2,265.5 385.7,260.5 388.3,260.5 390.8,265.5 397.5,265.5 400,260.5 402.6,260.5 405.1,265.5 408,265.5" fill="none" stroke="#000" stroke-width="1.5" stroke-linejoin="round"/>
<line x1="341" y1="271.7" x2="388" y2="271.7" stroke="#555" stroke-width="0.7"/>
<rect x="396" y="269.6" width="11.6" height="4.2" fill="none" stroke="#333" stroke-width="0.6"/>
<text x="397" y="272.81" font-size="2.8" font-weight="bold" fill="#333" font-family='"Liberation Sans","Noto Sans CJK SC",sans-serif' textLength="9.6" lengthAdjust="spacingAndGlyphs">0.200</text>
<text x="339.3" y="249.6" font-size="6.4" font-weight="bold" fill="#111" font-family='"Liberation Sans","Noto Sans CJK SC",sans-serif' textLength="14.7" lengthAdjust="spacingAndGlyphs" stroke="#111" stroke-width="0.3">-0.050</text>
<line x1="337" y1="250.1" x2="360.8" y2="250.1" stroke="#222" stroke-width="0.9"/>
<polyline points="337.6,250.1 340.9,253.6 344.2,250.1" fill="none" stroke="#222" stroke-width="0.8"/>
<line x1="337.2" y1="253.6" x2="345" y2="253.6" stroke="#222" stroke-width="0.9"/>
<line x1="385.5" y1="241.2" x2="407.8" y2="262" stroke="#222" stroke-width="0.9"/>
<text x="397" y="252.21" font-size="2.8" font-weight="bold" fill="#333" font-family='"Liberation Sans","Noto Sans CJK SC",sans-serif' textLength="8.5" lengthAdjust="spacingAndGlyphs">0.5%</text>
<circle cx="406.6" cy="262.2" r="1.2" fill="none" stroke="#444" stroke-width="0.6"/>
<line x1="369.7" y1="204.7" x2="397.4" y2="220.1" stroke="#222" stroke-width="0.9"/>
<line x1="384.3" y1="204.7" x2="392.8" y2="218.6" stroke="#222" stroke-width="0.9"/>
<text x="380.6" y="213.61" font-size="2.8" font-weight="bold" fill="#333" font-family='"Liberation Sans","Noto Sans CJK SC",sans-serif' textLength="6.8" lengthAdjust="spacingAndGlyphs">0.5%</text>
<circle cx="466.6" cy="149.8" r="5.6" fill="#fff" stroke="#444" stroke-width="1.1"/>
<text x="463.8" y="152.97" font-size="8.8" font-weight="bold" fill="#000" font-family='"Liberation Sans","Noto Sans CJK SC",sans-serif' textLength="5.6" lengthAdjust="spacingAndGlyphs" stroke="#000" stroke-width="0.3">D</text>
<circle cx="466.6" cy="224.1" r="5.6" fill="#fff" stroke="#444" stroke-width="1.1"/>
<text x="463.8" y="227.27" font-size="8.8" font-weight="bold" fill="#000" font-family='"Liberation Sans","Noto Sans CJK SC",sans-serif' textLength="5.6" lengthAdjust="spacingAndGlyphs" stroke="#000" stroke-width="0.3">B</text>
<circle cx="466.6" cy="279.2" r="5.6" fill="#fff" stroke="#444" stroke-width="1.1"/>
<text x="463.8" y="282.37" font-size="8.8" font-weight="bold" fill="#000" font-family='"Liberation Sans","Noto Sans CJK SC",sans-serif' textLength="5.6" lengthAdjust="spacingAndGlyphs" stroke="#000" stroke-width="0.3">A</text>
<line x1="412.2" y1="150" x2="461.1" y2="150" stroke="#222" stroke-width="0.9"/>
<line x1="412.2" y1="224.3" x2="461.1" y2="224.3" stroke="#222" stroke-width="0.9"/>
<line x1="412.2" y1="279.4" x2="461.1" y2="279.4" stroke="#222" stroke-width="0.9"/>
<line x1="435.6" y1="148" x2="435.6" y2="281.4" stroke="#222" stroke-width="0.9"/>
<line x1="445.8" y1="148" x2="445.8" y2="281.4" stroke="#222" stroke-width="0.9"/>
<line x1="456.2" y1="148" x2="456.2" y2="281.4" stroke="#222" stroke-width="0.9"/>
<line x1="434.3" y1="151.3" x2="436.9" y2="148.7" stroke="#111" stroke-width="0.8"/>
<line x1="434.3" y1="155.5" x2="436.9" y2="152.9" stroke="#111" stroke-width="0.8"/>
<line x1="434.3" y1="221.1" x2="436.9" y2="218.5" stroke="#111" stroke-width="0.8"/>
<line x1="434.3" y1="225.6" x2="436.9" y2="223" stroke="#111" stroke-width="0.8"/>
<line x1="434.3" y1="228.3" x2="436.9" y2="225.7" stroke="#111" stroke-width="0.8"/>
<line x1="434.3" y1="267.7" x2="436.9" y2="265.1" stroke="#111" stroke-width="0.8"/>
<line x1="434.3" y1="280.7" x2="436.9" y2="278.1" stroke="#111" stroke-width="0.8"/>
<line x1="444.7" y1="151.1" x2="446.9" y2="148.9" stroke="#111" stroke-width="1.2"/>
<line x1="444.7" y1="225.4" x2="446.9" y2="223.2" stroke="#111" stroke-width="1.2"/>
<line x1="444.7" y1="280.5" x2="446.9" y2="278.3" stroke="#111" stroke-width="1.2"/>
<line x1="455.1" y1="151.1" x2="457.3" y2="148.9" stroke="#111" stroke-width="1.2"/>
<line x1="455.1" y1="280.5" x2="457.3" y2="278.3" stroke="#111" stroke-width="1.2"/>
<line x1="420.8" y1="154.2" x2="438.5" y2="154.2" stroke="#222" stroke-width="0.9"/>
<line x1="420.8" y1="219.8" x2="436.2" y2="219.8" stroke="#222" stroke-width="0.9"/>
<line x1="420.8" y1="227" x2="436.2" y2="227" stroke="#222" stroke-width="0.9"/>
<line x1="415" y1="266.4" x2="439" y2="266.4" stroke="#222" stroke-width="0.9"/>
<line x1="417.2" y1="250" x2="417.2" y2="266.4" stroke="#444" stroke-width="0.7"/>
<text x="428.55" y="154.03" font-size="6.2" font-weight="bold" fill="#111" font-family='"Liberation Sans","Noto Sans CJK SC",sans-serif' textLength="7.5" lengthAdjust="spacingAndGlyphs" transform="rotate(-90 432.3 151.8)" stroke="#111" stroke-width="0.3">350</text>
<text x="425.9" y="189.45" font-size="6.8" font-weight="bold" fill="#111" font-family='"Liberation Sans","Noto Sans CJK SC",sans-serif' textLength="11.8" lengthAdjust="spacingAndGlyphs" transform="rotate(-90 431.8 187)" stroke="#111" stroke-width="0.3">5000</text>
<text x="436.2" y="189.45" font-size="6.8" font-weight="bold" fill="#111" font-family='"Liberation Sans","Noto Sans CJK SC",sans-serif' textLength="11.8" lengthAdjust="spacingAndGlyphs" transform="rotate(-90 442.1 187)" stroke="#111" stroke-width="0.3">5700</text>
<text x="446.7" y="216.45" font-size="6.8" font-weight="bold" fill="#111" font-family='"Liberation Sans","Noto Sans CJK SC",sans-serif' textLength="11.8" lengthAdjust="spacingAndGlyphs" transform="rotate(-90 452.6 214)" stroke="#111" stroke-width="0.3">9900</text>
<text x="428.25" y="227.43" font-size="6.2" font-weight="bold" fill="#111" font-family='"Liberation Sans","Noto Sans CJK SC",sans-serif' textLength="7.5" lengthAdjust="spacingAndGlyphs" transform="rotate(-90 432 225.2)" stroke="#111" stroke-width="0.3">200</text>
<text x="436.45" y="223.63" font-size="6.2" font-weight="bold" fill="#111" font-family='"Liberation Sans","Noto Sans CJK SC",sans-serif' textLength="7.5" lengthAdjust="spacingAndGlyphs" transform="rotate(-90 440.2 221.4)" stroke="#111" stroke-width="0.3">350</text>
<text x="425.9" y="248.75" font-size="6.8" font-weight="bold" fill="#111" font-family='"Liberation Sans","Noto Sans CJK SC",sans-serif' textLength="11.8" lengthAdjust="spacingAndGlyphs" transform="rotate(-90 431.8 246.3)" stroke="#111" stroke-width="0.3">3000</text>
<text x="436.2" y="254.05" font-size="6.8" font-weight="bold" fill="#111" font-family='"Liberation Sans","Noto Sans CJK SC",sans-serif' textLength="11.8" lengthAdjust="spacingAndGlyphs" transform="rotate(-90 442.1 251.6)" stroke="#111" stroke-width="0.3">4200</text>
<text x="427.7" y="275.05" font-size="6.8" font-weight="bold" fill="#111" font-family='"Liberation Sans","Noto Sans CJK SC",sans-serif' textLength="8.4" lengthAdjust="spacingAndGlyphs" transform="rotate(-90 431.9 272.6)" stroke="#111" stroke-width="0.3">950</text>
<polyline points="404.4,185.5 431.6,200.8 461.6,200.8" fill="none" stroke="#222" stroke-width="0.9"/>
<text x="437.8" y="199.51" font-size="2.8" font-weight="bold" fill="#444" font-family='"Liberation Sans","Noto Sans CJK SC",sans-serif' textLength="23.8" lengthAdjust="spacingAndGlyphs">大便槽?做法-日立</text>
<text x="442.4" y="204.91" font-size="2.8" font-weight="bold" fill="#444" font-family='"Liberation Sans","Noto Sans CJK SC",sans-serif' textLength="5.4" lengthAdjust="spacingAndGlyphs">中国</text>
<text x="409.1" y="187.01" font-size="2.8" font-weight="bold" fill="#333" font-family='"Liberation Sans","Noto Sans CJK SC",sans-serif' textLength="12" lengthAdjust="spacingAndGlyphs" transform="rotate(-90 415.1 186)">LGC-3907</text>
<polyline points="409,226 425.4,233.9 453.9,233.9" fill="none" stroke="#222" stroke-width="0.9"/>
<text x="433" y="232.61" font-size="2.8" font-weight="bold" fill="#444" font-family='"Liberation Sans","Noto Sans CJK SC",sans-serif' textLength="5.5" lengthAdjust="spacingAndGlyphs">中国</text>
<text x="427" y="239.21" font-size="2.8" font-weight="bold" fill="#444" font-family='"Liberation Sans","Noto Sans CJK SC",sans-serif' textLength="20" lengthAdjust="spacingAndGlyphs">做法?99浙J38</text>
<circle cx="452.4" cy="238.2" r="2.8" fill="none" stroke="#444" stroke-width="0.7"/>
<line x1="449.8" y1="238.2" x2="455" y2="238.2" stroke="#555" stroke-width="0.4"/>
<text x="451.2" y="237.79" font-size="2.2" font-weight="normal" fill="#555" font-family='"Liberation Sans","Noto Sans CJK SC",sans-serif' textLength="2.4" lengthAdjust="spacingAndGlyphs">3</text>
<text x="451" y="240.39" font-size="2.2" font-weight="normal" fill="#555" font-family='"Liberation Sans","Noto Sans CJK SC",sans-serif' textLength="2.8" lengthAdjust="spacingAndGlyphs">17</text>
<text x="409" y="259.41" font-size="2.8" font-weight="bold" fill="#333" font-family='"Liberation Sans","Noto Sans CJK SC",sans-serif' textLength="12" lengthAdjust="spacingAndGlyphs" transform="rotate(-90 415 258.4)">LGC-3007</text>
<line x1="315.8" y1="281.4" x2="315.8" y2="327.8" stroke="#222" stroke-width="0.9"/>
<line x1="410.2" y1="281.4" x2="410.2" y2="327.8" stroke="#222" stroke-width="0.9"/>
<line x1="340.3" y1="296" x2="340.3" y2="305.4" stroke="#222" stroke-width="0.9"/>
<line x1="405.8" y1="287.2" x2="405.8" y2="305.2" stroke="#222" stroke-width="0.9"/>
<line x1="313.4" y1="301.7" x2="412.6" y2="301.7" stroke="#222" stroke-width="0.9"/>
<line x1="313.4" y1="322.5" x2="412.6" y2="322.5" stroke="#222" stroke-width="0.9"/>
<line x1="314.7" y1="302.8" x2="316.9" y2="300.6" stroke="#111" stroke-width="1.2"/>
<line x1="339.2" y1="302.8" x2="341.4" y2="300.6" stroke="#111" stroke-width="1.2"/>
<line x1="404.7" y1="302.8" x2="406.9" y2="300.6" stroke="#111" stroke-width="1.2"/>
<line x1="409.1" y1="302.8" x2="411.3" y2="300.6" stroke="#111" stroke-width="1.2"/>
<line x1="314.7" y1="323.6" x2="316.9" y2="321.4" stroke="#111" stroke-width="1.2"/>
<line x1="409.1" y1="323.6" x2="411.3" y2="321.4" stroke="#111" stroke-width="1.2"/>
<text x="322.3" y="300.65" font-size="6.8" font-weight="bold" fill="#111" font-family='"Liberation Sans","Noto Sans CJK SC",sans-serif' textLength="11.8" lengthAdjust="spacingAndGlyphs" stroke="#111" stroke-width="0.3">1875</text>
<text x="367" y="300.65" font-size="6.8" font-weight="bold" fill="#111" font-family='"Liberation Sans","Noto Sans CJK SC",sans-serif' textLength="11.8" lengthAdjust="spacingAndGlyphs" stroke="#111" stroke-width="0.3">5000</text>
<text x="404" y="300.65" font-size="6.8" font-weight="bold" fill="#111" font-family='"Liberation Sans","Noto Sans CJK SC",sans-serif' textLength="8.4" lengthAdjust="spacingAndGlyphs" stroke="#111" stroke-width="0.3">325</text>
<text x="357.5" y="321.05" font-size="6.8" font-weight="bold" fill="#111" font-family='"Liberation Sans","Noto Sans CJK SC",sans-serif' textLength="11.8" lengthAdjust="spacingAndGlyphs" stroke="#111" stroke-width="0.3">7200</text>
<circle cx="315.8" cy="333.6" r="5.6" fill="#fff" stroke="#444" stroke-width="1.1"/>
<text x="312.8" y="336.7" font-size="8.6" font-weight="bold" fill="#000" font-family='"Liberation Sans","Noto Sans CJK SC",sans-serif' textLength="6" lengthAdjust="spacingAndGlyphs" stroke="#000" stroke-width="0.3">1</text>
<circle cx="410.2" cy="333.6" r="5.6" fill="#fff" stroke="#444" stroke-width="1.1"/>
<text x="407.2" y="336.7" font-size="8.6" font-weight="bold" fill="#000" font-family='"Liberation Sans","Noto Sans CJK SC",sans-serif' textLength="6" lengthAdjust="spacingAndGlyphs" stroke="#000" stroke-width="0.3">5</text>
<rect x="321.6" y="280.6" width="6.8" height="7.8" fill="none" stroke="#222" stroke-width="0.8"/>
<text x="321.25" y="286.8" font-size="6.4" font-weight="bold" fill="#111" font-family='"Liberation Sans","Noto Sans CJK SC",sans-serif' textLength="7.5" lengthAdjust="spacingAndGlyphs" transform="rotate(-90 325 284.5)" stroke="#111" stroke-width="0.3">500</text>
<line x1="305.6" y1="288.3" x2="341.7" y2="288.3" stroke="#222" stroke-width="0.9"/>
<line x1="339.8" y1="282" x2="339.8" y2="290" stroke="#333" stroke-width="0.8"/>
<line x1="327.9" y1="281" x2="327.9" y2="290.5" stroke="#333" stroke-width="0.8"/>
<line x1="340" y1="282.8" x2="347" y2="294.4" stroke="#222" stroke-width="0.9"/>
<text x="355.1" y="285.31" font-size="2.8" font-weight="bold" fill="#333" font-family='"Liberation Sans","Noto Sans CJK SC",sans-serif' textLength="16.5" lengthAdjust="spacingAndGlyphs">LGC-5007</text>
<polyline points="376.6,281.6 376.6,291.3 391.7,291.3" fill="none" stroke="#222" stroke-width="1"/>
<text x="393.4" y="293.98" font-size="9.4" font-weight="normal" fill="#222" font-family='"Liberation Sans","Noto Sans CJK SC",sans-serif' textLength="3.4" lengthAdjust="spacingAndGlyphs">1</text>
<text x="306.2" y="278.43" font-size="6.2" font-weight="bold" fill="#111" font-family='"Liberation Sans","Noto Sans CJK SC",sans-serif' textLength="8.2" lengthAdjust="spacingAndGlyphs" stroke="#111" stroke-width="0.3">300</text>
<line x1="304.4" y1="268.9" x2="315.9" y2="268.9" stroke="#333" stroke-width="0.8"/>
<line x1="306.7" y1="267.4" x2="306.7" y2="287.4" stroke="#333" stroke-width="0.8"/>
<line x1="305.5" y1="270.1" x2="307.9" y2="267.7" stroke="#111" stroke-width="0.8"/>
<line x1="305.5" y1="280.6" x2="307.9" y2="278.2" stroke="#111" stroke-width="0.8"/>
<line x1="304.4" y1="273.6" x2="308.5" y2="269.5" stroke="#444" stroke-width="0.6"/>
<text x="273.2" y="295.71" font-size="2.8" font-weight="bold" fill="#444" font-family='"Liberation Sans","Noto Sans CJK SC",sans-serif' textLength="10.4" lengthAdjust="spacingAndGlyphs">泛水做法</text>
<polyline points="265,297.1 303.6,297.1 315.9,279.8" fill="none" stroke="#222" stroke-width="0.9"/>
<text x="262.7" y="301.51" font-size="2.8" font-weight="bold" fill="#444" font-family='"Liberation Sans","Noto Sans CJK SC",sans-serif' textLength="24.7" lengthAdjust="spacingAndGlyphs">做法?2000浙J37</text>
<circle cx="290.5" cy="300.5" r="2.8" fill="none" stroke="#444" stroke-width="0.7"/>
<line x1="287.8" y1="300.5" x2="293.2" y2="300.5" stroke="#555" stroke-width="0.4"/>
<text x="289.4" y="299.99" font-size="2.2" font-weight="normal" fill="#555" font-family='"Liberation Sans","Noto Sans CJK SC",sans-serif' textLength="2.4" lengthAdjust="spacingAndGlyphs">3</text>
<text x="289.2" y="302.79" font-size="2.2" font-weight="normal" fill="#555" font-family='"Liberation Sans","Noto Sans CJK SC",sans-serif' textLength="2.8" lengthAdjust="spacingAndGlyphs">17</text>
<text x="324.1" y="347.7" font-size="10" font-weight="normal" fill="#222" font-family='"Liberation Sans","Noto Sans CJK SC",sans-serif' textLength="6" lengthAdjust="spacingAndGlyphs" stroke="#222" stroke-width="0.25">一</text>
<text x="332.5" y="348.52" font-size="12" font-weight="normal" fill="#222" font-family='"Liberation Sans","Noto Sans CJK SC",sans-serif' textLength="3.8" lengthAdjust="spacingAndGlyphs" stroke="#222" stroke-width="0.25">?</text>
<text x="337.5" y="347.7" font-size="10" font-weight="normal" fill="#222" font-family='"Liberation Sans","Noto Sans CJK SC",sans-serif' textLength="13.8" lengthAdjust="spacingAndGlyphs" stroke="#222" stroke-width="0.25">平面</text>
<text x="351.7" y="348.66" font-size="12.4" font-weight="normal" fill="#222" font-family='"Liberation Sans","Noto Sans CJK SC",sans-serif' textLength="4.2" lengthAdjust="spacingAndGlyphs" stroke="#222" stroke-width="0.25">1</text>
<text x="358.5" y="348.66" font-size="12.4" font-weight="normal" fill="#222" font-family='"Liberation Sans","Noto Sans CJK SC",sans-serif' textLength="2.2" lengthAdjust="spacingAndGlyphs" stroke="#222" stroke-width="0.25">:</text>
<text x="363.8" y="348.66" font-size="12.4" font-weight="normal" fill="#222" font-family='"Liberation Sans","Noto Sans CJK SC",sans-serif' textLength="16.4" lengthAdjust="spacingAndGlyphs" stroke="#222" stroke-width="0.25">100</text>
<line x1="321.5" y1="358.3" x2="405.5" y2="358.3" stroke="#333" stroke-width="1.1"/>
<line x1="583.6" y1="148.3" x2="676.4" y2="148.3" stroke="#484848" stroke-width="1.1"/>
<line x1="583.6" y1="150.82" x2="676.4" y2="150.82" stroke="#484848" stroke-width="1.1"/>
<line x1="583.6" y1="153.34" x2="676.4" y2="153.34" stroke="#484848" stroke-width="1.1"/>
<line x1="583.6" y1="155.86" x2="676.4" y2="155.86" stroke="#484848" stroke-width="1.1"/>
<line x1="583.6" y1="158.38" x2="676.4" y2="158.38" stroke="#484848" stroke-width="1.1"/>
<line x1="583.6" y1="160.9" x2="676.4" y2="160.9" stroke="#484848" stroke-width="1.1"/>
<line x1="583.6" y1="163.42" x2="676.4" y2="163.42" stroke="#484848" stroke-width="1.1"/>
<line x1="583.6" y1="165.94" x2="676.4" y2="165.94" stroke="#484848" stroke-width="1.1"/>
<line x1="583.6" y1="168.46" x2="676.4" y2="168.46" stroke="#484848" stroke-width="1.1"/>
<line x1="583.6" y1="170.98" x2="676.4" y2="170.98" stroke="#484848" stroke-width="1.1"/>
<line x1="583.6" y1="173.5" x2="676.4" y2="173.5" stroke="#484848" stroke-width="1.1"/>
<line x1="583.6" y1="176.02" x2="676.4" y2="176.02" stroke="#484848" stroke-width="1.1"/>
<line x1="583.6" y1="178.54" x2="676.4" y2="178.54" stroke="#484848" stroke-width="1.1"/>
<line x1="583.6" y1="181.06" x2="676.4" y2="181.06" stroke="#484848" stroke-width="1.1"/>
<line x1="583.6" y1="183.58" x2="676.4" y2="183.58" stroke="#484848" stroke-width="1.1"/>
<line x1="583.6" y1="186.1" x2="676.4" y2="186.1" stroke="#484848" stroke-width="1.1"/>
<line x1="583.6" y1="188.62" x2="676.4" y2="188.62" stroke="#484848" stroke-width="1.1"/>
<line x1="583.6" y1="191.14" x2="676.4" y2="191.14" stroke="#484848" stroke-width="1.1"/>
<line x1="583.6" y1="193.66" x2="676.4" y2="193.66" stroke="#484848" stroke-width="1.1"/>
<line x1="583.6" y1="196.18" x2="676.4" y2="196.18" stroke="#484848" stroke-width="1.1"/>
<line x1="583.6" y1="198.7" x2="676.4" y2="198.7" stroke="#484848" stroke-width="1.1"/>
<line x1="583.6" y1="201.22" x2="676.4" y2="201.22" stroke="#484848" stroke-width="1.1"/>
<line x1="583.6" y1="203.74" x2="676.4" y2="203.74" stroke="#484848" stroke-width="1.1"/>
<line x1="583.6" y1="206.26" x2="676.4" y2="206.26" stroke="#484848" stroke-width="1.1"/>
<line x1="583.6" y1="208.78" x2="676.4" y2="208.78" stroke="#484848" stroke-width="1.1"/>
<line x1="583.6" y1="211.3" x2="676.4" y2="211.3" stroke="#484848" stroke-width="1.1"/>
<line x1="583.6" y1="213.82" x2="676.4" y2="213.82" stroke="#484848" stroke-width="1.1"/>
<line x1="583.6" y1="216.34" x2="676.4" y2="216.34" stroke="#484848" stroke-width="1.1"/>
<line x1="583.6" y1="218.86" x2="676.4" y2="218.86" stroke="#484848" stroke-width="1.1"/>
<line x1="583.6" y1="221.38" x2="676.4" y2="221.38" stroke="#484848" stroke-width="1.1"/>
<line x1="583.6" y1="223.9" x2="676.4" y2="223.9" stroke="#484848" stroke-width="1.1"/>
<line x1="588.78" y1="226.42" x2="676.4" y2="226.42" stroke="#484848" stroke-width="1.1"/>
<line x1="593.03" y1="228.94" x2="676.4" y2="228.94" stroke="#484848" stroke-width="1.1"/>
<line x1="597.28" y1="231.46" x2="676.4" y2="231.46" stroke="#484848" stroke-width="1.1"/>
<line x1="601.53" y1="233.98" x2="676.4" y2="233.98" stroke="#484848" stroke-width="1.1"/>
<line x1="605.78" y1="236.5" x2="676.4" y2="236.5" stroke="#484848" stroke-width="1.1"/>
<line x1="610.03" y1="239.02" x2="676.4" y2="239.02" stroke="#484848" stroke-width="1.1"/>
<line x1="614.28" y1="241.54" x2="676.4" y2="241.54" stroke="#484848" stroke-width="1.1"/>
<line x1="618.53" y1="244.06" x2="676.4" y2="244.06" stroke="#484848" stroke-width="1.1"/>
<line x1="622.78" y1="246.58" x2="676.4" y2="246.58" stroke="#484848" stroke-width="1.1"/>
<line x1="627.03" y1="249.1" x2="676.4" y2="249.1" stroke="#484848" stroke-width="1.1"/>
<line x1="631.28" y1="251.62" x2="676.4" y2="251.62" stroke="#484848" stroke-width="1.1"/>
<line x1="635.53" y1="254.14" x2="676.4" y2="254.14" stroke="#484848" stroke-width="1.1"/>
<line x1="639.78" y1="256.66" x2="676.4" y2="256.66" stroke="#484848" stroke-width="1.1"/>
<line x1="644.03" y1="259.18" x2="676.4" y2="259.18" stroke="#484848" stroke-width="1.1"/>
<line x1="648.28" y1="261.7" x2="676.4" y2="261.7" stroke="#484848" stroke-width="1.1"/>
<line x1="652.52" y1="264.22" x2="676.4" y2="264.22" stroke="#484848" stroke-width="1.1"/>
<line x1="656.77" y1="266.74" x2="676.4" y2="266.74" stroke="#484848" stroke-width="1.1"/>
<line x1="661.02" y1="269.26" x2="676.4" y2="269.26" stroke="#484848" stroke-width="1.1"/>
<line x1="665.27" y1="271.78" x2="676.4" y2="271.78" stroke="#484848" stroke-width="1.1"/>
<line x1="669.52" y1="274.3" x2="676.4" y2="274.3" stroke="#484848" stroke-width="1.1"/>
<line x1="673.77" y1="276.82" x2="676.4" y2="276.82" stroke="#484848" stroke-width="1.1"/>
<line x1="566.3" y1="222.9" x2="566.3" y2="280.2" stroke="#484848" stroke-width="1.1"/>
<line x1="568.82" y1="222.9" x2="568.82" y2="280.2" stroke="#484848" stroke-width="1.1"/>
<line x1="571.34" y1="222.9" x2="571.34" y2="280.2" stroke="#484848" stroke-width="1.1"/>
<line x1="573.86" y1="222.9" x2="573.86" y2="280.2" stroke="#484848" stroke-width="1.1"/>
<line x1="576.38" y1="222.9" x2="576.38" y2="280.2" stroke="#484848" stroke-width="1.1"/>
<line x1="578.9" y1="222.9" x2="578.9" y2="280.2" stroke="#484848" stroke-width="1.1"/>
<line x1="581.42" y1="222.9" x2="581.42" y2="280.2" stroke="#484848" stroke-width="1.1"/>
<line x1="583.94" y1="222.9" x2="583.94" y2="280.2" stroke="#484848" stroke-width="1.1"/>
<line x1="586.46" y1="225.04" x2="586.46" y2="280.2" stroke="#484848" stroke-width="1.1"/>
<line x1="588.98" y1="226.54" x2="588.98" y2="280.2" stroke="#484848" stroke-width="1.1"/>
<line x1="591.5" y1="228.03" x2="591.5" y2="280.2" stroke="#484848" stroke-width="1.1"/>
<line x1="594.02" y1="229.53" x2="594.02" y2="280.2" stroke="#484848" stroke-width="1.1"/>
<line x1="596.54" y1="231.02" x2="596.54" y2="280.2" stroke="#484848" stroke-width="1.1"/>
<line x1="599.06" y1="232.52" x2="599.06" y2="280.2" stroke="#484848" stroke-width="1.1"/>
<line x1="601.58" y1="234.01" x2="601.58" y2="280.2" stroke="#484848" stroke-width="1.1"/>
<line x1="604.1" y1="235.5" x2="604.1" y2="280.2" stroke="#484848" stroke-width="1.1"/>
<line x1="606.62" y1="237" x2="606.62" y2="280.2" stroke="#484848" stroke-width="1.1"/>
<line x1="609.14" y1="238.49" x2="609.14" y2="280.2" stroke="#484848" stroke-width="1.1"/>
<line x1="611.66" y1="239.99" x2="611.66" y2="280.2" stroke="#484848" stroke-width="1.1"/>
<line x1="614.18" y1="241.48" x2="614.18" y2="280.2" stroke="#484848" stroke-width="1.1"/>
<line x1="616.7" y1="242.98" x2="616.7" y2="280.2" stroke="#484848" stroke-width="1.1"/>
<line x1="619.22" y1="244.47" x2="619.22" y2="280.2" stroke="#484848" stroke-width="1.1"/>
<line x1="621.74" y1="245.96" x2="621.74" y2="280.2" stroke="#484848" stroke-width="1.1"/>
<line x1="624.26" y1="247.46" x2="624.26" y2="280.2" stroke="#484848" stroke-width="1.1"/>
<line x1="626.78" y1="248.95" x2="626.78" y2="280.2" stroke="#484848" stroke-width="1.1"/>
<line x1="629.3" y1="250.45" x2="629.3" y2="280.2" stroke="#484848" stroke-width="1.1"/>
<line x1="631.82" y1="251.94" x2="631.82" y2="280.2" stroke="#484848" stroke-width="1.1"/>
<line x1="634.34" y1="253.44" x2="634.34" y2="280.2" stroke="#484848" stroke-width="1.1"/>
<line x1="636.86" y1="254.93" x2="636.86" y2="280.2" stroke="#484848" stroke-width="1.1"/>
<line x1="639.38" y1="256.43" x2="639.38" y2="280.2" stroke="#484848" stroke-width="1.1"/>
<line x1="641.9" y1="257.92" x2="641.9" y2="280.2" stroke="#484848" stroke-width="1.1"/>
<line x1="644.42" y1="259.41" x2="644.42" y2="280.2" stroke="#484848" stroke-width="1.1"/>
<line x1="646.94" y1="260.91" x2="646.94" y2="280.2" stroke="#484848" stroke-width="1.1"/>
<line x1="649.46" y1="262.4" x2="649.46" y2="280.2" stroke="#484848" stroke-width="1.1"/>
<line x1="651.98" y1="263.9" x2="651.98" y2="280.2" stroke="#484848" stroke-width="1.1"/>
<line x1="654.5" y1="265.39" x2="654.5" y2="280.2" stroke="#484848" stroke-width="1.1"/>
<line x1="657.02" y1="266.89" x2="657.02" y2="280.2" stroke="#484848" stroke-width="1.1"/>
<line x1="659.54" y1="268.38" x2="659.54" y2="280.2" stroke="#484848" stroke-width="1.1"/>
<line x1="662.06" y1="269.87" x2="662.06" y2="280.2" stroke="#484848" stroke-width="1.1"/>
<line x1="664.58" y1="271.37" x2="664.58" y2="280.2" stroke="#484848" stroke-width="1.1"/>
<line x1="667.1" y1="272.86" x2="667.1" y2="280.2" stroke="#484848" stroke-width="1.1"/>
<line x1="669.62" y1="274.36" x2="669.62" y2="280.2" stroke="#484848" stroke-width="1.1"/>
<line x1="672.14" y1="275.85" x2="672.14" y2="280.2" stroke="#484848" stroke-width="1.1"/>
<line x1="674.66" y1="277.35" x2="674.66" y2="280.2" stroke="#484848" stroke-width="1.1"/>
<line x1="571.8" y1="224" x2="571.8" y2="280.2" stroke="#333" stroke-width="1.6"/>
<circle cx="590" cy="95" r="5.6" fill="#fff" stroke="#444" stroke-width="1.1"/>
<text x="587" y="98.1" font-size="8.6" font-weight="bold" fill="#000" font-family='"Liberation Sans","Noto Sans CJK SC",sans-serif' textLength="6" lengthAdjust="spacingAndGlyphs" stroke="#000" stroke-width="0.3">2</text>
<circle cx="619.6" cy="95" r="5.6" fill="#fff" stroke="#444" stroke-width="1.1"/>
<text x="616.6" y="98.1" font-size="8.6" font-weight="bold" fill="#000" font-family='"Liberation Sans","Noto Sans CJK SC",sans-serif' textLength="6" lengthAdjust="spacingAndGlyphs" stroke="#000" stroke-width="0.3">4</text>
<circle cx="669.9" cy="95" r="5.6" fill="#fff" stroke="#444" stroke-width="1.1"/>
<text x="666.9" y="98.1" font-size="8.6" font-weight="bold" fill="#000" font-family='"Liberation Sans","Noto Sans CJK SC",sans-serif' textLength="6" lengthAdjust="spacingAndGlyphs" stroke="#000" stroke-width="0.3">5</text>
<line x1="590" y1="100.5" x2="590" y2="184.7" stroke="#222" stroke-width="0.9"/>
<line x1="619.6" y1="100.5" x2="619.6" y2="228" stroke="#222" stroke-width="0.9"/>
<line x1="669.9" y1="100.5" x2="669.9" y2="281" stroke="#222" stroke-width="0.9"/>
<line x1="629.7" y1="129.3" x2="629.7" y2="148" stroke="#333" stroke-width="1.1" stroke-dasharray="3 1.5 12 1.5"/>
<line x1="629.7" y1="148" x2="629.7" y2="281" stroke="#707070" stroke-width="1.5"/>
<line x1="629.7" y1="281" x2="629.7" y2="284.5" stroke="#333" stroke-width="1"/>
<line x1="588" y1="112.8" x2="671.8" y2="112.8" stroke="#222" stroke-width="0.9"/>
<line x1="581.4" y1="123.6" x2="678.6" y2="123.6" stroke="#222" stroke-width="0.9"/>
<line x1="588" y1="132.9" x2="631.6" y2="132.9" stroke="#222" stroke-width="0.9"/>
<line x1="588.9" y1="113.9" x2="591.1" y2="111.7" stroke="#111" stroke-width="1.2"/>
<line x1="668.8" y1="113.9" x2="671" y2="111.7" stroke="#111" stroke-width="1.2"/>
<line x1="582.3" y1="124.7" x2="584.5" y2="122.5" stroke="#111" stroke-width="1.2"/>
<line x1="588.9" y1="124.7" x2="591.1" y2="122.5" stroke="#111" stroke-width="1.2"/>
<line x1="618.5" y1="124.7" x2="620.7" y2="122.5" stroke="#111" stroke-width="1.2"/>
<line x1="668.8" y1="124.7" x2="671" y2="122.5" stroke="#111" stroke-width="1.2"/>
<line x1="675.5" y1="124.7" x2="677.7" y2="122.5" stroke="#111" stroke-width="1.2"/>
<line x1="588.9" y1="134" x2="591.1" y2="131.8" stroke="#111" stroke-width="1.2"/>
<line x1="628.6" y1="134" x2="630.8" y2="131.8" stroke="#111" stroke-width="1.2"/>
<line x1="583.4" y1="121.6" x2="583.4" y2="143.2" stroke="#222" stroke-width="0.9"/>
<line x1="676.6" y1="121.6" x2="676.6" y2="143.2" stroke="#222" stroke-width="0.9"/>
<text x="624.2" y="111.75" font-size="6.8" font-weight="bold" fill="#111" font-family='"Liberation Sans","Noto Sans CJK SC",sans-serif' textLength="11.8" lengthAdjust="spacingAndGlyphs" stroke="#111" stroke-width="0.3">6100</text>
<text x="582.5" y="122.35" font-size="6.8" font-weight="bold" fill="#111" font-family='"Liberation Sans","Noto Sans CJK SC",sans-serif' textLength="9" lengthAdjust="spacingAndGlyphs" stroke="#111" stroke-width="0.3">500</text>
<text x="598.9" y="122.35" font-size="6.8" font-weight="bold" fill="#111" font-family='"Liberation Sans","Noto Sans CJK SC",sans-serif' textLength="11.8" lengthAdjust="spacingAndGlyphs" stroke="#111" stroke-width="0.3">2250</text>
<text x="639.1" y="122.35" font-size="6.8" font-weight="bold" fill="#111" font-family='"Liberation Sans","Noto Sans CJK SC",sans-serif' textLength="11.8" lengthAdjust="spacingAndGlyphs" stroke="#111" stroke-width="0.3">3850</text>
<text x="668.9" y="122.35" font-size="6.8" font-weight="bold" fill="#111" font-family='"Liberation Sans","Noto Sans CJK SC",sans-serif' textLength="9" lengthAdjust="spacingAndGlyphs" stroke="#111" stroke-width="0.3">500</text>
<text x="604.3" y="131.75" font-size="6.8" font-weight="bold" fill="#111" font-family='"Liberation Sans","Noto Sans CJK SC",sans-serif' textLength="11.8" lengthAdjust="spacingAndGlyphs" stroke="#111" stroke-width="0.3">3050</text>
<polyline points="642,144.2 642,134.2 656.3,134.2" fill="none" stroke="#222" stroke-width="1.1"/>
<text x="658.6" y="137.98" font-size="9.4" font-weight="normal" fill="#222" font-family='"Liberation Sans","Noto Sans CJK SC",sans-serif' textLength="3.6" lengthAdjust="spacingAndGlyphs">1</text>
<polyline points="641,283.6 641,292.6 655.6,292.6" fill="none" stroke="#222" stroke-width="1.1"/>
<text x="657.8" y="294.28" font-size="8" font-weight="normal" fill="#222" font-family='"Liberation Sans","Noto Sans CJK SC",sans-serif' textLength="3.2" lengthAdjust="spacingAndGlyphs">1</text>
<circle cx="503.3" cy="153.3" r="5.6" fill="#fff" stroke="#444" stroke-width="1.1"/>
<text x="500.5" y="156.47" font-size="8.8" font-weight="bold" fill="#000" font-family='"Liberation Sans","Noto Sans CJK SC",sans-serif' textLength="5.6" lengthAdjust="spacingAndGlyphs" stroke="#000" stroke-width="0.3">D</text>
<circle cx="503.3" cy="183.6" r="5.6" fill="#fff" stroke="#444" stroke-width="1.1"/>
<text x="500.5" y="186.77" font-size="8.8" font-weight="bold" fill="#000" font-family='"Liberation Sans","Noto Sans CJK SC",sans-serif' textLength="5.6" lengthAdjust="spacingAndGlyphs" stroke="#000" stroke-width="0.3">C</text>
<circle cx="503.3" cy="227.8" r="5.6" fill="#fff" stroke="#444" stroke-width="1.1"/>
<text x="500.5" y="230.97" font-size="8.8" font-weight="bold" fill="#000" font-family='"Liberation Sans","Noto Sans CJK SC",sans-serif' textLength="5.6" lengthAdjust="spacingAndGlyphs" stroke="#000" stroke-width="0.3">B</text>
<circle cx="503.3" cy="273.5" r="5.6" fill="#fff" stroke="#444" stroke-width="1.1"/>
<text x="500.5" y="276.67" font-size="8.8" font-weight="bold" fill="#000" font-family='"Liberation Sans","Noto Sans CJK SC",sans-serif' textLength="5.6" lengthAdjust="spacingAndGlyphs" stroke="#000" stroke-width="0.3">A</text>
<line x1="508.8" y1="153.3" x2="583" y2="153.3" stroke="#222" stroke-width="0.9" stroke-dasharray="30 2 3 2"/>
<line x1="508.8" y1="183.6" x2="617.8" y2="183.6" stroke="#222" stroke-width="0.9" stroke-dasharray="40 2 3 2"/>
<line x1="508.8" y1="227.8" x2="583" y2="227.8" stroke="#222" stroke-width="0.9"/>
<line x1="508.8" y1="273.5" x2="566" y2="273.5" stroke="#222" stroke-width="0.9"/>
<line x1="583" y1="227.8" x2="683" y2="227.8" stroke="#333" stroke-width="0.9"/>
<line x1="566" y1="273.5" x2="683" y2="273.5" stroke="#333" stroke-width="0.9"/>
<line x1="583" y1="153.3" x2="676" y2="153.3" stroke="#444" stroke-width="0.9"/>
<line x1="513.2" y1="151.3" x2="513.2" y2="275.5" stroke="#222" stroke-width="0.9"/>
<line x1="523.6" y1="144.8" x2="523.6" y2="282" stroke="#222" stroke-width="0.9"/>
<line x1="512.1" y1="154.4" x2="514.3" y2="152.2" stroke="#111" stroke-width="1.2"/>
<line x1="512.1" y1="274.6" x2="514.3" y2="272.4" stroke="#111" stroke-width="1.2"/>
<line x1="522.5" y1="147.9" x2="524.7" y2="145.7" stroke="#111" stroke-width="1.2"/>
<line x1="522.5" y1="154.4" x2="524.7" y2="152.2" stroke="#111" stroke-width="1.2"/>
<line x1="522.5" y1="184.7" x2="524.7" y2="182.5" stroke="#111" stroke-width="1.2"/>
<line x1="522.5" y1="228.9" x2="524.7" y2="226.7" stroke="#111" stroke-width="1.2"/>
<line x1="522.5" y1="274.6" x2="524.7" y2="272.4" stroke="#111" stroke-width="1.2"/>
<line x1="522.5" y1="281.2" x2="524.7" y2="279" stroke="#111" stroke-width="1.2"/>
<line x1="521.6" y1="146.8" x2="579.8" y2="146.8" stroke="#222" stroke-width="0.9"/>
<line x1="521.6" y1="280.1" x2="561.6" y2="280.1" stroke="#222" stroke-width="0.9"/>
<text x="504.1" y="215.65" font-size="6.8" font-weight="bold" fill="#111" font-family='"Liberation Sans","Noto Sans CJK SC",sans-serif' textLength="11.8" lengthAdjust="spacingAndGlyphs" transform="rotate(-90 510 213.2)" stroke="#111" stroke-width="0.3">9200</text>
<text x="516.17" y="152.4" font-size="6.4" font-weight="bold" fill="#111" font-family='"Liberation Sans","Noto Sans CJK SC",sans-serif' textLength="7.65" lengthAdjust="spacingAndGlyphs" transform="rotate(-90 520 150.1)" stroke="#111" stroke-width="0.3">500</text>
<text x="514.1" y="170.85" font-size="6.8" font-weight="bold" fill="#111" font-family='"Liberation Sans","Noto Sans CJK SC",sans-serif' textLength="11.8" lengthAdjust="spacingAndGlyphs" transform="rotate(-90 520 168.4)" stroke="#111" stroke-width="0.3">2300</text>
<text x="514.1" y="208.15" font-size="6.8" font-weight="bold" fill="#111" font-family='"Liberation Sans","Noto Sans CJK SC",sans-serif' textLength="11.8" lengthAdjust="spacingAndGlyphs" transform="rotate(-90 520 205.7)" stroke="#111" stroke-width="0.3">3400</text>
<text x="514.1" y="253.05" font-size="6.8" font-weight="bold" fill="#111" font-family='"Liberation Sans","Noto Sans CJK SC",sans-serif' textLength="11.8" lengthAdjust="spacingAndGlyphs" transform="rotate(-90 520 250.6)" stroke="#111" stroke-width="0.3">3500</text>
<text x="516.17" y="279.1" font-size="6.4" font-weight="bold" fill="#111" font-family='"Liberation Sans","Noto Sans CJK SC",sans-serif' textLength="7.65" lengthAdjust="spacingAndGlyphs" transform="rotate(-90 520 276.8)" stroke="#111" stroke-width="0.3">500</text>
<line x1="534.7" y1="249.8" x2="534.7" y2="275" stroke="#222" stroke-width="0.9"/>
<line x1="533.6" y1="252.4" x2="535.8" y2="250.2" stroke="#111" stroke-width="1.2"/>
<line x1="533.6" y1="274.6" x2="535.8" y2="272.4" stroke="#111" stroke-width="1.2"/>
<text x="524.7" y="264.85" font-size="6.8" font-weight="bold" fill="#111" font-family='"Liberation Sans","Noto Sans CJK SC",sans-serif' textLength="11.8" lengthAdjust="spacingAndGlyphs" transform="rotate(-90 530.6 262.4)" stroke="#111" stroke-width="0.3">1700</text>
<line x1="531.6" y1="251.3" x2="548" y2="251.3" stroke="#222" stroke-width="1"/>
<line x1="551" y1="251.3" x2="558.6" y2="251.3" stroke="#222" stroke-width="1"/>
<line x1="573" y1="251" x2="683.4" y2="251" stroke="#222" stroke-width="1" stroke-dasharray="56 1.2 2 1.2"/>
<circle cx="544.2" cy="236.2" r="6.5" fill="none" stroke="#222" stroke-width="1"/>
<line x1="537.7" y1="236.2" x2="550.7" y2="236.2" stroke="#333" stroke-width="0.7"/>
<text x="543.2" y="234.68" font-size="3" font-weight="bold" fill="#555" font-family='"Liberation Sans","Noto Sans CJK SC",sans-serif' textLength="2.2" lengthAdjust="spacingAndGlyphs">2</text>
<text x="542" y="239.88" font-size="3" font-weight="bold" fill="#555" font-family='"Liberation Sans","Noto Sans CJK SC",sans-serif' textLength="4.6" lengthAdjust="spacingAndGlyphs">J01</text>
<polyline points="550.7,236.2 554,236.2 560.3,250" fill="none" stroke="#222" stroke-width="0.9"/>
<circle cx="566.6" cy="250.4" r="6.6" fill="none" stroke="#222" stroke-width="1"/>
<circle cx="728.3" cy="153.1" r="5.6" fill="#fff" stroke="#444" stroke-width="1.1"/>
<text x="725.5" y="156.27" font-size="8.8" font-weight="bold" fill="#000" font-family='"Liberation Sans","Noto Sans CJK SC",sans-serif' textLength="5.6" lengthAdjust="spacingAndGlyphs" stroke="#000" stroke-width="0.3">D</text>
<circle cx="728.3" cy="227.5" r="5.6" fill="#fff" stroke="#444" stroke-width="1.1"/>
<text x="725.5" y="230.67" font-size="8.8" font-weight="bold" fill="#000" font-family='"Liberation Sans","Noto Sans CJK SC",sans-serif' textLength="5.6" lengthAdjust="spacingAndGlyphs" stroke="#000" stroke-width="0.3">B</text>
<circle cx="728.3" cy="273.8" r="5.6" fill="#fff" stroke="#444" stroke-width="1.1"/>
<text x="725.5" y="276.97" font-size="8.8" font-weight="bold" fill="#000" font-family='"Liberation Sans","Noto Sans CJK SC",sans-serif' textLength="5.6" lengthAdjust="spacingAndGlyphs" stroke="#000" stroke-width="0.3">A</text>
<line x1="680" y1="153.1" x2="722.8" y2="153.1" stroke="#222" stroke-width="0.9"/>
<line x1="683" y1="227.5" x2="722.8" y2="227.5" stroke="#222" stroke-width="0.9"/>
<line x1="680" y1="273.8" x2="722.8" y2="273.8" stroke="#222" stroke-width="0.9"/>
<line x1="680.2" y1="146.9" x2="710.1" y2="146.9" stroke="#222" stroke-width="0.9"/>
<line x1="680.4" y1="280" x2="710.5" y2="280" stroke="#222" stroke-width="0.9"/>
<line x1="707" y1="145" x2="707" y2="282" stroke="#222" stroke-width="0.9"/>
<line x1="717.9" y1="151.2" x2="717.9" y2="275.8" stroke="#222" stroke-width="0.9"/>
<line x1="705.9" y1="148" x2="708.1" y2="145.8" stroke="#111" stroke-width="1.2"/>
<line x1="705.9" y1="154.2" x2="708.1" y2="152" stroke="#111" stroke-width="1.2"/>
<line x1="705.9" y1="228.6" x2="708.1" y2="226.4" stroke="#111" stroke-width="1.2"/>
<line x1="705.9" y1="274.9" x2="708.1" y2="272.7" stroke="#111" stroke-width="1.2"/>
<line x1="705.9" y1="281.1" x2="708.1" y2="278.9" stroke="#111" stroke-width="1.2"/>
<line x1="716.8" y1="154.2" x2="719" y2="152" stroke="#111" stroke-width="1.2"/>
<line x1="716.8" y1="274.9" x2="719" y2="272.7" stroke="#111" stroke-width="1.2"/>
<text x="699.97" y="152.3" font-size="6.4" font-weight="bold" fill="#111" font-family='"Liberation Sans","Noto Sans CJK SC",sans-serif' textLength="7.65" lengthAdjust="spacingAndGlyphs" transform="rotate(-90 703.8 150)" stroke="#111" stroke-width="0.3">500</text>
<text x="697.9" y="193.35" font-size="6.8" font-weight="bold" fill="#111" font-family='"Liberation Sans","Noto Sans CJK SC",sans-serif' textLength="11.8" lengthAdjust="spacingAndGlyphs" transform="rotate(-90 703.8 190.9)" stroke="#111" stroke-width="0.3">5700</text>
<text x="708.3" y="215.45" font-size="6.8" font-weight="bold" fill="#111" font-family='"Liberation Sans","Noto Sans CJK SC",sans-serif' textLength="11.8" lengthAdjust="spacingAndGlyphs" transform="rotate(-90 714.2 213)" stroke="#111" stroke-width="0.3">9200</text>
<text x="697.9" y="253.15" font-size="6.8" font-weight="bold" fill="#111" font-family='"Liberation Sans","Noto Sans CJK SC",sans-serif' textLength="11.8" lengthAdjust="spacingAndGlyphs" transform="rotate(-90 703.8 250.7)" stroke="#111" stroke-width="0.3">3000</text>
<text x="699.97" y="278.9" font-size="6.4" font-weight="bold" fill="#111" font-family='"Liberation Sans","Noto Sans CJK SC",sans-serif' textLength="7.65" lengthAdjust="spacingAndGlyphs" transform="rotate(-90 703.8 276.6)" stroke="#111" stroke-width="0.3">500</text>
<rect x="633.6" y="188.6" width="13.4" height="6.4" fill="#fff"/>
<line x1="625.8" y1="195.5" x2="650.9" y2="195.5" stroke="#222" stroke-width="1"/>
<polygon points="626.2,195.5 629.8,199.9 633.4,195.5" fill="#fff" stroke="#222" stroke-width="0.9"/>
<text x="634.7" y="194.22" font-size="5.6" font-weight="bold" fill="#111" font-family='"Liberation Sans","Noto Sans CJK SC",sans-serif' textLength="11.3" lengthAdjust="spacingAndGlyphs" stroke="#111" stroke-width="0.3">4.400</text>
<line x1="670.2" y1="209.8" x2="696.8" y2="209.8" stroke="#222" stroke-width="1"/>
<polygon points="671.2,209.8 675.3,213.5 679.4,209.8" fill="#fff" stroke="#222" stroke-width="0.9"/>
<line x1="671.5" y1="213.5" x2="681.4" y2="213.5" stroke="#222" stroke-width="0.9"/>
<text x="680.6" y="207.82" font-size="5.6" font-weight="bold" fill="#111" font-family='"Liberation Sans","Noto Sans CJK SC",sans-serif' textLength="12" lengthAdjust="spacingAndGlyphs" stroke="#111" stroke-width="0.3">3.200</text>
<line x1="572.3" y1="282" x2="572.3" y2="330.8" stroke="#222" stroke-width="0.9" stroke-dasharray="6 2.2"/>
<line x1="572.3" y1="296" x2="572.3" y2="330.8" stroke="#222" stroke-width="0.9"/>
<line x1="666.4" y1="282" x2="666.4" y2="330.8" stroke="#222" stroke-width="0.9" stroke-dasharray="6 2.2"/>
<line x1="666.4" y1="296" x2="666.4" y2="330.8" stroke="#222" stroke-width="0.9"/>
<line x1="597" y1="287.3" x2="597" y2="307.6" stroke="#222" stroke-width="0.9"/>
<line x1="662.3" y1="289.3" x2="662.3" y2="308" stroke="#222" stroke-width="0.9"/>
<line x1="569.8" y1="305.1" x2="668.4" y2="305.1" stroke="#222" stroke-width="0.9"/>
<line x1="569.8" y1="325.3" x2="668.4" y2="325.3" stroke="#222" stroke-width="0.9"/>
<line x1="571.2" y1="306.2" x2="573.4" y2="304" stroke="#111" stroke-width="1.2"/>
<line x1="595.9" y1="306.2" x2="598.1" y2="304" stroke="#111" stroke-width="1.2"/>
<line x1="661.2" y1="306.2" x2="663.4" y2="304" stroke="#111" stroke-width="1.2"/>
<line x1="665.3" y1="306.2" x2="667.5" y2="304" stroke="#111" stroke-width="1.2"/>
<line x1="571.2" y1="326.4" x2="573.4" y2="324.2" stroke="#111" stroke-width="1.2"/>
<line x1="665.3" y1="326.4" x2="667.5" y2="324.2" stroke="#111" stroke-width="1.2"/>
<text x="579.3" y="303.95" font-size="6.8" font-weight="bold" fill="#111" font-family='"Liberation Sans","Noto Sans CJK SC",sans-serif' textLength="11.8" lengthAdjust="spacingAndGlyphs" stroke="#111" stroke-width="0.3">1875</text>
<text x="623.8" y="303.95" font-size="6.8" font-weight="bold" fill="#111" font-family='"Liberation Sans","Noto Sans CJK SC",sans-serif' textLength="11.8" lengthAdjust="spacingAndGlyphs" stroke="#111" stroke-width="0.3">5000</text>
<text x="660.5" y="303.95" font-size="6.8" font-weight="bold" fill="#111" font-family='"Liberation Sans","Noto Sans CJK SC",sans-serif' textLength="8.4" lengthAdjust="spacingAndGlyphs" stroke="#111" stroke-width="0.3">325</text>
<text x="614" y="324.25" font-size="6.8" font-weight="bold" fill="#111" font-family='"Liberation Sans","Noto Sans CJK SC",sans-serif' textLength="11.8" lengthAdjust="spacingAndGlyphs" stroke="#111" stroke-width="0.3">7200</text>
<circle cx="572.3" cy="336.3" r="5.6" fill="#fff" stroke="#444" stroke-width="1.1"/>
<text x="569.3" y="339.4" font-size="8.6" font-weight="bold" fill="#000" font-family='"Liberation Sans","Noto Sans CJK SC",sans-serif' textLength="6" lengthAdjust="spacingAndGlyphs" stroke="#000" stroke-width="0.3">1</text>
<circle cx="666.4" cy="336.3" r="5.6" fill="#fff" stroke="#444" stroke-width="1.1"/>
<text x="663.4" y="339.4" font-size="8.6" font-weight="bold" fill="#000" font-family='"Liberation Sans","Noto Sans CJK SC",sans-serif' textLength="6" lengthAdjust="spacingAndGlyphs" stroke="#000" stroke-width="0.3">5</text>
<text x="582.8" y="354.9" font-size="10" font-weight="normal" fill="#222" font-family='"Liberation Sans","Noto Sans CJK SC",sans-serif' textLength="6" lengthAdjust="spacingAndGlyphs" stroke="#222" stroke-width="0.25">屋</text>
<text x="591.2" y="355.72" font-size="12" font-weight="normal" fill="#222" font-family='"Liberation Sans","Noto Sans CJK SC",sans-serif' textLength="3.8" lengthAdjust="spacingAndGlyphs" stroke="#222" stroke-width="0.25">?</text>
<text x="596.2" y="354.9" font-size="10" font-weight="normal" fill="#222" font-family='"Liberation Sans","Noto Sans CJK SC",sans-serif' textLength="13.5" lengthAdjust="spacingAndGlyphs" stroke="#222" stroke-width="0.25">平面</text>
<text x="610.1" y="355.86" font-size="12.4" font-weight="normal" fill="#222" font-family='"Liberation Sans","Noto Sans CJK SC",sans-serif' textLength="4.2" lengthAdjust="spacingAndGlyphs" stroke="#222" stroke-width="0.25">1</text>
<text x="616.9" y="355.86" font-size="12.4" font-weight="normal" fill="#222" font-family='"Liberation Sans","Noto Sans CJK SC",sans-serif' textLength="2.2" lengthAdjust="spacingAndGlyphs" stroke="#222" stroke-width="0.25">:</text>
<text x="622.7" y="355.86" font-size="12.4" font-weight="normal" fill="#222" font-family='"Liberation Sans","Noto Sans CJK SC",sans-serif' textLength="16.4" lengthAdjust="spacingAndGlyphs" stroke="#222" stroke-width="0.25">100</text>
<line x1="577.9" y1="364.8" x2="671.5" y2="364.8" stroke="#333" stroke-width="1.1"/>
</svg></body></html>
